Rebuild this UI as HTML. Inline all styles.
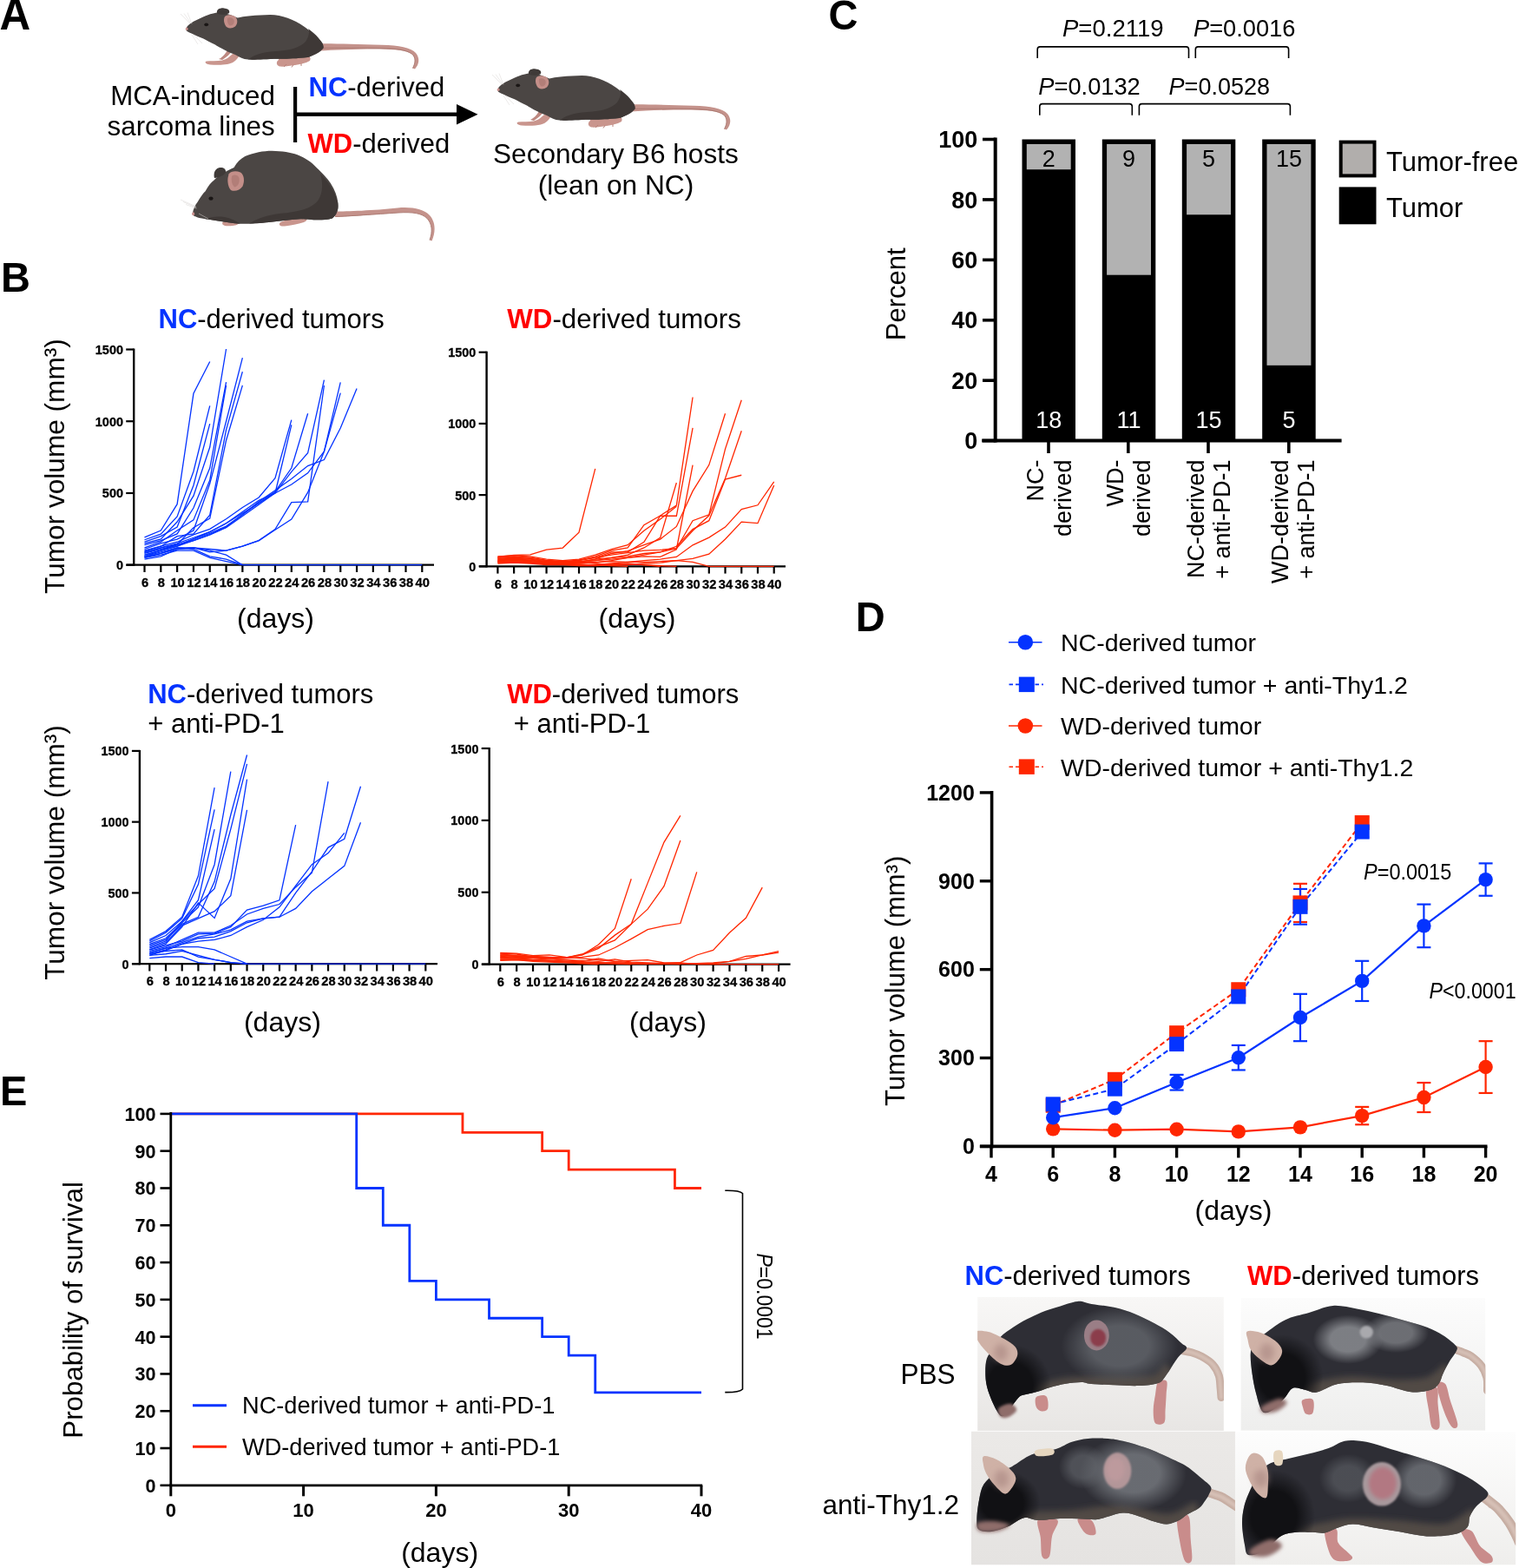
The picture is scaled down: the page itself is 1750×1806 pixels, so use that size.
<!DOCTYPE html>
<html><head><meta charset="utf-8"><title>Figure</title>
<style>html,body{margin:0;padding:0;background:#fff;overflow:hidden;}svg{display:block;}text{font-family:"Liberation Sans", Arial, Helvetica, sans-serif;}</style>
</head><body>
<svg width="1750" height="1806" viewBox="0 0 1750 1806">
<rect width="1750" height="1806" fill="#fff"/>
<text transform="translate(-0.5,34) scale(1.05,1.09)" font-size="47" font-weight="bold">A</text>
<g transform="translate(0,0) scale(1)">
<path d="M368,50.3 C385,50 410,51 440,51.8 C460,52.3 473,55 479,61 C484,67 483,74 478,79.5 L475.3,78.6 C479,72 479,66 474.5,62.3 C468,57.8 455,56.8 438,56.5 C410,56.3 385,57.5 368,58.5 Z" fill="#c4928b"/>
<path d="M368,55.5 C390,55 420,55 440,55.6 C456,56 468,57.5 474.5,62 C479,66 479,72 475.5,78.5" fill="none" stroke="#a9776f" stroke-width="0.9"/>
<path d="M321,67 C330,66 342,63 350,63 C356,63 359,66 357,70 C352,73 345,74 340,75 C334,76 327,77 322,76.5 C318,75 318,71 321,69 Z" fill="#c9958d"/>
<path d="M330,74 l-3,3 M338,74.5 l-2,3 M347,73 l0,3" stroke="#b78179" stroke-width="1"/>
<path d="M270,60 C266,64 262,68 256,69.5 C250,70.5 243,70 238,70.5 C235,71.5 237,74 242,74.5 C250,75 258,75 264,73.5 C270,72 274,68 276,63 Z" fill="#c9958d"/>
<path d="M262,58 C259,63 256,66 252,68 L256,69 C261,66 265,62 268,58 Z" fill="#bd8880"/>
<path d="M214.6,32.6 C216,28 222,25 234,19.5 C242,16 248,14.8 252,14.6 C258,14 266,17 273.7,20.6 C280,19 295,17.5 311.4,17.1 C325,17.5 338,22 350.9,30.9 C358,36 366,43 371.4,49.7 C373,53 373,56 371.4,56.6 C369,59.5 366,61 364.6,61.7 C360,64 357,65.5 354.3,66 C340,67.5 330,67.8 320,67.7 C305,68 295,69 285.7,68.6 C280,68 276,66 272,63.4 C266,61 263,60 260,58.3 C254,55 250,53 248,51.4 C242,49 238,46.5 234.3,44.6 C228,42 224,40.5 220.6,38.6 C217,37 215,36 214.6,35 Z" fill="#4b4644"/>
<path d="M371.4,49.7 C373,53 373,56 371.4,56.6 C369,59.5 366,61 364.6,61.7 C360,64 357,65.5 354.3,66 C340,67.5 330,67.8 320,67.7 C305,68 295,69 285.7,68.6 C292,64 300,60 318,59 C335,58 345,55 352,48 C356,42 357,36 355,33 C362,38 368,44 371.4,49.7 Z" fill="#3e3836"/>
<path d="M250,15.5 C249,11 253,9 258,9.4 C263,9.8 265,12 264,15 C261,17 255,17.5 250,15.5 Z" fill="#3f3a38"/>
<path d="M258.5,20 C260,16.5 265,16.5 270,18.5 C274,21 274.5,27 271,30.5 C267,33.5 261,33 259.5,29 C258,26 257.5,23 258.5,20 Z" fill="#c48f89"/>
<path d="M262,21 C264,19.5 268,20 269.5,23 C270.5,26 268.5,29.5 265,29.5 C262.5,28.5 261.5,24.5 262,21 Z" fill="#b27e78"/>
<ellipse cx="237.7" cy="28.3" rx="2.4" ry="1.9" fill="#1a1615"/>
<ellipse cx="215.2" cy="33.2" rx="1.4" ry="1.7" fill="#c98f8c"/>
<path d="M219,27 L208,16 M220,27 L212,15.5 M221,27.5 L216,14.5 M223,40 L233,50 M221,40 L228,51" stroke="#d8d4d2" stroke-width="0.5" fill="none"/>
</g>
<g transform="translate(359,70) scale(1)">
<path d="M368,50.3 C385,50 410,51 440,51.8 C460,52.3 473,55 479,61 C484,67 483,74 478,79.5 L475.3,78.6 C479,72 479,66 474.5,62.3 C468,57.8 455,56.8 438,56.5 C410,56.3 385,57.5 368,58.5 Z" fill="#c4928b"/>
<path d="M368,55.5 C390,55 420,55 440,55.6 C456,56 468,57.5 474.5,62 C479,66 479,72 475.5,78.5" fill="none" stroke="#a9776f" stroke-width="0.9"/>
<path d="M321,67 C330,66 342,63 350,63 C356,63 359,66 357,70 C352,73 345,74 340,75 C334,76 327,77 322,76.5 C318,75 318,71 321,69 Z" fill="#c9958d"/>
<path d="M330,74 l-3,3 M338,74.5 l-2,3 M347,73 l0,3" stroke="#b78179" stroke-width="1"/>
<path d="M270,60 C266,64 262,68 256,69.5 C250,70.5 243,70 238,70.5 C235,71.5 237,74 242,74.5 C250,75 258,75 264,73.5 C270,72 274,68 276,63 Z" fill="#c9958d"/>
<path d="M262,58 C259,63 256,66 252,68 L256,69 C261,66 265,62 268,58 Z" fill="#bd8880"/>
<path d="M214.6,32.6 C216,28 222,25 234,19.5 C242,16 248,14.8 252,14.6 C258,14 266,17 273.7,20.6 C280,19 295,17.5 311.4,17.1 C325,17.5 338,22 350.9,30.9 C358,36 366,43 371.4,49.7 C373,53 373,56 371.4,56.6 C369,59.5 366,61 364.6,61.7 C360,64 357,65.5 354.3,66 C340,67.5 330,67.8 320,67.7 C305,68 295,69 285.7,68.6 C280,68 276,66 272,63.4 C266,61 263,60 260,58.3 C254,55 250,53 248,51.4 C242,49 238,46.5 234.3,44.6 C228,42 224,40.5 220.6,38.6 C217,37 215,36 214.6,35 Z" fill="#4b4644"/>
<path d="M371.4,49.7 C373,53 373,56 371.4,56.6 C369,59.5 366,61 364.6,61.7 C360,64 357,65.5 354.3,66 C340,67.5 330,67.8 320,67.7 C305,68 295,69 285.7,68.6 C292,64 300,60 318,59 C335,58 345,55 352,48 C356,42 357,36 355,33 C362,38 368,44 371.4,49.7 Z" fill="#3e3836"/>
<path d="M250,15.5 C249,11 253,9 258,9.4 C263,9.8 265,12 264,15 C261,17 255,17.5 250,15.5 Z" fill="#3f3a38"/>
<path d="M258.5,20 C260,16.5 265,16.5 270,18.5 C274,21 274.5,27 271,30.5 C267,33.5 261,33 259.5,29 C258,26 257.5,23 258.5,20 Z" fill="#c48f89"/>
<path d="M262,21 C264,19.5 268,20 269.5,23 C270.5,26 268.5,29.5 265,29.5 C262.5,28.5 261.5,24.5 262,21 Z" fill="#b27e78"/>
<ellipse cx="237.7" cy="28.3" rx="2.4" ry="1.9" fill="#1a1615"/>
<ellipse cx="215.2" cy="33.2" rx="1.4" ry="1.7" fill="#c98f8c"/>
<path d="M219,27 L208,16 M220,27 L212,15.5 M221,27.5 L216,14.5 M223,40 L233,50 M221,40 L228,51" stroke="#d8d4d2" stroke-width="0.5" fill="none"/>
</g>
<path d="M386,243.5 C400,243.5 430,242.5 458,239.5 C475,238 488,241 495,248 C502,256 502,267 497.5,277.5 L495,276.5 C498.5,267 498,258 492,251.5 C486,245.5 475,244 459,245 C432,247 402,249.5 386,250 Z" fill="#c4928b"/>
<path d="M386,249.5 C402,249 432,246.8 459,245 C475,244 486,245.5 492,251.5 C498,258 498.5,267 495,276.5" fill="none" stroke="#a9776f" stroke-width="0.9"/>
<path d="M323,256 C332,252 342,249 350,249.5 C355,250 355,254 350,256 C343,258.5 335,259.5 328,260.5 C323,261 320,259 323,256 Z" fill="#c9958d"/>
<path d="M258,255 C263,253 270,253 274,254.5 C277,257 274,259.5 268,260 C263,260.5 258,260.5 256.5,258.5 C255.5,257 256.5,255.5 258,255 Z" fill="#c9958d"/>
<path d="M221.9,245.9 C222.5,241 225,236 227.4,233.1 C231,227 234,222.5 236.6,220.3 C240,214 243,210 246.6,207.5 C252,202 262,196 269.5,192.9 C273,187 277,183 282.3,180.1 C293,175.5 303,173.8 313.4,173.7 C325,174 335,175.5 342.6,178.3 C352,182 359,187 364.6,192.9 C372,200 377,205 381,211.2 C386,219 388.5,226 389.2,233.1 C389.8,238 389.5,241 388.3,244.1 C387,248 385,250 382.8,251.4 C377,253 370,253.5 364.6,253.3 C356,253 351,252.5 346.3,252.3 C333,253 321,255 309.7,256 C297,257 287,258 276.8,257.8 C268,257.5 261,256 254.9,255.1 C248,254 242,253 236.6,252.3 C231,251.5 227,250.5 225.6,249.6 C223,248.5 222,247.5 221.9,245.9 Z" fill="#4b4644"/>
<path d="M389.2,233.1 C389.8,238 389.5,241 388.3,244.1 C387,248 385,250 382.8,251.4 C377,253 370,253.5 364.6,253.3 C356,253 351,252.5 346.3,252.3 C333,253 321,255 309.7,256 C300,257 292,257.5 287,257.6 C296,252 306,248 322,246 C345,244 362,240 368,228 C372,220 372,210 369,200 C377,208 385,218 389.2,233.1 Z" fill="#3e3836"/>
<path d="M236.6,252.3 C242,253 248,254 254.9,255.1 C261,256 268,257.5 276.8,257.8 C270,253 262,250 255,249.5 C248,249 241,250.5 236.6,252.3 Z" fill="#3e3836"/>
<path d="M247,205 C245.5,199 248,194 253,193 C258,192.5 260.5,195 260,198.5 C258,202 252,205 247,205 Z" fill="#3f3a38"/>
<path d="M263.5,200.5 C266,197 272,196.5 277,198.5 C281.5,201.5 282,209 279.5,214.5 C276.5,219.5 270,221 266,219 C263,216 262,210 262.5,205 Z" fill="#c48f89"/>
<path d="M267,203 C269.5,200.5 274,201 275.5,205 C276.5,209.5 274.5,214.5 270.5,215.5 C267.5,214 266,208 267,203 Z" fill="#b27e78"/>
<ellipse cx="243" cy="228.6" rx="2.6" ry="2.2" fill="#1a1615"/>
<ellipse cx="222.6" cy="246.2" rx="1.5" ry="2" fill="#c98f8c"/>
<path d="M226,238 L208,230 M226,239 L211,232.5 M226.5,240 L214,235.5 M229,246 L240,252" stroke="#d8d4d2" stroke-width="0.5" fill="none"/>
<text x="316.8" y="121" font-size="31.3" text-anchor="end">MCA-induced</text>
<text x="316.7" y="156.2" font-size="31.3" text-anchor="end">sarcoma lines</text>
<rect x="338" y="100" width="4.2" height="64" fill="#000"/>
<rect x="340" y="129.5" width="187" height="4.4" fill="#000"/>
<path d="M526,120 L550.5,131.7 L526,143.4 Z" fill="#000"/>
<text x="355.5" y="110.8" font-size="31"><tspan font-weight="bold" fill="#0433ff">NC</tspan>-derived</text>
<text x="354.5" y="176" font-size="31"><tspan font-weight="bold" fill="#ff0000">WD</tspan>-derived</text>
<text x="709.4" y="188.4" font-size="31.6" text-anchor="middle">Secondary B6 hosts</text>
<text x="709.5" y="223.5" font-size="31.7" text-anchor="middle">(lean on NC)</text>
<text transform="translate(1,336) scale(1,1.04)" font-size="47" font-weight="bold">B</text>
<line x1="154.2" y1="401.5" x2="154.2" y2="651.8" stroke="#000" stroke-width="2.4"/>
<line x1="145.6" y1="650.7" x2="500" y2="650.7" stroke="#000" stroke-width="2.3"/>
<line x1="145.2" y1="650.7" x2="154.2" y2="650.7" stroke="#000" stroke-width="2.2"/>
<text transform="translate(141.9,656.2) scale(0.93,1)" font-size="15.5" font-weight="bold" text-anchor="end" stroke="#000" stroke-width="0.3">0</text>
<line x1="145.2" y1="567.97" x2="154.2" y2="567.97" stroke="#000" stroke-width="2.2"/>
<text transform="translate(141.9,573.47) scale(0.93,1)" font-size="15.5" font-weight="bold" text-anchor="end" stroke="#000" stroke-width="0.3">500</text>
<line x1="145.2" y1="485.23" x2="154.2" y2="485.23" stroke="#000" stroke-width="2.2"/>
<text transform="translate(141.9,490.73) scale(0.93,1)" font-size="15.5" font-weight="bold" text-anchor="end" stroke="#000" stroke-width="0.3">1000</text>
<line x1="145.2" y1="402.5" x2="154.2" y2="402.5" stroke="#000" stroke-width="2.2"/>
<text transform="translate(141.9,408) scale(0.93,1)" font-size="15.5" font-weight="bold" text-anchor="end" stroke="#000" stroke-width="0.3">1500</text>
<line x1="166.5" y1="650.7" x2="166.5" y2="659" stroke="#000" stroke-width="2.2"/>
<text transform="translate(167,675.9) scale(0.95,1)" font-size="15.5" font-weight="bold" text-anchor="middle" stroke="#000" stroke-width="0.3">6</text>
<line x1="185.31" y1="650.7" x2="185.31" y2="659" stroke="#000" stroke-width="2.2"/>
<text transform="translate(185.81,675.9) scale(0.95,1)" font-size="15.5" font-weight="bold" text-anchor="middle" stroke="#000" stroke-width="0.3">8</text>
<line x1="204.12" y1="650.7" x2="204.12" y2="659" stroke="#000" stroke-width="2.2"/>
<text transform="translate(204.62,675.9) scale(0.95,1)" font-size="15.5" font-weight="bold" text-anchor="middle" stroke="#000" stroke-width="0.3">10</text>
<line x1="222.94" y1="650.7" x2="222.94" y2="659" stroke="#000" stroke-width="2.2"/>
<text transform="translate(223.44,675.9) scale(0.95,1)" font-size="15.5" font-weight="bold" text-anchor="middle" stroke="#000" stroke-width="0.3">12</text>
<line x1="241.75" y1="650.7" x2="241.75" y2="659" stroke="#000" stroke-width="2.2"/>
<text transform="translate(242.25,675.9) scale(0.95,1)" font-size="15.5" font-weight="bold" text-anchor="middle" stroke="#000" stroke-width="0.3">14</text>
<line x1="260.56" y1="650.7" x2="260.56" y2="659" stroke="#000" stroke-width="2.2"/>
<text transform="translate(261.06,675.9) scale(0.95,1)" font-size="15.5" font-weight="bold" text-anchor="middle" stroke="#000" stroke-width="0.3">16</text>
<line x1="279.37" y1="650.7" x2="279.37" y2="659" stroke="#000" stroke-width="2.2"/>
<text transform="translate(279.87,675.9) scale(0.95,1)" font-size="15.5" font-weight="bold" text-anchor="middle" stroke="#000" stroke-width="0.3">18</text>
<line x1="298.18" y1="650.7" x2="298.18" y2="659" stroke="#000" stroke-width="2.2"/>
<text transform="translate(298.68,675.9) scale(0.95,1)" font-size="15.5" font-weight="bold" text-anchor="middle" stroke="#000" stroke-width="0.3">20</text>
<line x1="316.99" y1="650.7" x2="316.99" y2="659" stroke="#000" stroke-width="2.2"/>
<text transform="translate(317.49,675.9) scale(0.95,1)" font-size="15.5" font-weight="bold" text-anchor="middle" stroke="#000" stroke-width="0.3">22</text>
<line x1="335.81" y1="650.7" x2="335.81" y2="659" stroke="#000" stroke-width="2.2"/>
<text transform="translate(336.31,675.9) scale(0.95,1)" font-size="15.5" font-weight="bold" text-anchor="middle" stroke="#000" stroke-width="0.3">24</text>
<line x1="354.62" y1="650.7" x2="354.62" y2="659" stroke="#000" stroke-width="2.2"/>
<text transform="translate(355.12,675.9) scale(0.95,1)" font-size="15.5" font-weight="bold" text-anchor="middle" stroke="#000" stroke-width="0.3">26</text>
<line x1="373.43" y1="650.7" x2="373.43" y2="659" stroke="#000" stroke-width="2.2"/>
<text transform="translate(373.93,675.9) scale(0.95,1)" font-size="15.5" font-weight="bold" text-anchor="middle" stroke="#000" stroke-width="0.3">28</text>
<line x1="392.24" y1="650.7" x2="392.24" y2="659" stroke="#000" stroke-width="2.2"/>
<text transform="translate(392.74,675.9) scale(0.95,1)" font-size="15.5" font-weight="bold" text-anchor="middle" stroke="#000" stroke-width="0.3">30</text>
<line x1="411.05" y1="650.7" x2="411.05" y2="659" stroke="#000" stroke-width="2.2"/>
<text transform="translate(411.55,675.9) scale(0.95,1)" font-size="15.5" font-weight="bold" text-anchor="middle" stroke="#000" stroke-width="0.3">32</text>
<line x1="429.86" y1="650.7" x2="429.86" y2="659" stroke="#000" stroke-width="2.2"/>
<text transform="translate(430.36,675.9) scale(0.95,1)" font-size="15.5" font-weight="bold" text-anchor="middle" stroke="#000" stroke-width="0.3">34</text>
<line x1="448.68" y1="650.7" x2="448.68" y2="659" stroke="#000" stroke-width="2.2"/>
<text transform="translate(449.18,675.9) scale(0.95,1)" font-size="15.5" font-weight="bold" text-anchor="middle" stroke="#000" stroke-width="0.3">36</text>
<line x1="467.49" y1="650.7" x2="467.49" y2="659" stroke="#000" stroke-width="2.2"/>
<text transform="translate(467.99,675.9) scale(0.95,1)" font-size="15.5" font-weight="bold" text-anchor="middle" stroke="#000" stroke-width="0.3">38</text>
<line x1="486.3" y1="650.7" x2="486.3" y2="659" stroke="#000" stroke-width="2.2"/>
<text transform="translate(486.8,675.9) scale(0.95,1)" font-size="15.5" font-weight="bold" text-anchor="middle" stroke="#000" stroke-width="0.3">40</text>
<polyline points="166.5,618.93 185.31,610.99 204.12,580.71 222.94,453.3 241.75,416.56" fill="none" stroke="#0433ff" stroke-width="1.3" stroke-linejoin="miter"/>
<polyline points="166.5,621.74 185.31,615.12 204.12,594.94 222.94,542.98 241.75,467.36" fill="none" stroke="#0433ff" stroke-width="1.3" stroke-linejoin="miter"/>
<polyline points="166.5,624.23 185.31,617.61 204.12,607.02 222.94,559.03 241.75,488.05" fill="none" stroke="#0433ff" stroke-width="1.3" stroke-linejoin="miter"/>
<polyline points="166.5,625.88 185.31,620.92 204.12,601.06 222.94,571.11 241.75,515.02 260.56,402" fill="none" stroke="#0433ff" stroke-width="1.3" stroke-linejoin="miter"/>
<polyline points="166.5,627.53 185.31,622.57 204.12,614.96 222.94,585.01 241.75,539.01 260.56,440.06" fill="none" stroke="#0433ff" stroke-width="1.3" stroke-linejoin="miter"/>
<polyline points="166.5,630.84 185.31,624.23 204.12,610.99 222.94,598.91 241.75,553.07 260.56,443.87" fill="none" stroke="#0433ff" stroke-width="1.3" stroke-linejoin="miter"/>
<polyline points="166.5,632.5 185.31,625.88 204.12,621.08 222.94,610.99 241.75,557.05 260.56,485.23 279.37,412.1" fill="none" stroke="#0433ff" stroke-width="1.3" stroke-linejoin="miter"/>
<polyline points="166.5,634.98 185.31,629.19 204.12,617.61 222.94,614.96 241.75,593.12 260.56,495.16 279.37,428.15" fill="none" stroke="#0433ff" stroke-width="1.3" stroke-linejoin="miter"/>
<polyline points="166.5,636.64 185.31,630.84 204.12,627.04 222.94,607.68 241.75,597.09 260.56,507.24 279.37,443.87" fill="none" stroke="#0433ff" stroke-width="1.3" stroke-linejoin="miter"/>
<polyline points="166.5,634.15 185.31,629.19 204.12,624.23 222.94,615.95 241.75,609.33 260.56,597.75 279.37,584.51 298.18,572.93 316.99,550.59 335.81,483.58" fill="none" stroke="#0433ff" stroke-width="1.3" stroke-linejoin="miter"/>
<polyline points="166.5,635.81 185.31,630.84 204.12,625.88 222.94,619.26 241.75,612.64 260.56,602.71 279.37,589.48 298.18,576.24 316.99,567.97 335.81,489.37" fill="none" stroke="#0433ff" stroke-width="1.3" stroke-linejoin="miter"/>
<polyline points="166.5,637.46 185.31,632.5 204.12,627.53 222.94,620.92 241.75,614.3 260.56,606.02 279.37,592.79 298.18,579.55 316.99,566.31 335.81,539.01 354.62,476.3" fill="none" stroke="#0433ff" stroke-width="1.3" stroke-linejoin="miter"/>
<polyline points="166.5,639.12 185.31,634.15 204.12,627.53 222.94,622.57 241.75,615.95 260.56,607.68 279.37,594.44 298.18,581.2 316.99,567.8 335.81,543.31 354.62,521.8 373.43,437.58" fill="none" stroke="#0433ff" stroke-width="1.3" stroke-linejoin="miter"/>
<polyline points="166.5,640.77 185.31,634.15 204.12,629.19 222.94,622.57 241.75,615.95 260.56,606.85 279.37,592.79 298.18,577.89 316.99,564.66 335.81,551.42 354.62,536.53 373.43,529.58 392.24,493.01 411.05,447.51" fill="none" stroke="#0433ff" stroke-width="1.3" stroke-linejoin="miter"/>
<polyline points="166.5,642.43 185.31,637.46 204.12,632.5 222.94,630.84 241.75,632.5 260.56,634.15 279.37,629.19 298.18,622.57 316.99,609.5 335.81,578.56 354.62,577.89 373.43,444.03" fill="none" stroke="#0433ff" stroke-width="1.3" stroke-linejoin="miter"/>
<polyline points="166.5,640.77 185.31,635.81 204.12,630.84 222.94,630.84 241.75,635.81 260.56,634.15 279.37,629.19 298.18,622.57 316.99,610.33 335.81,598.08 354.62,567.14 373.43,519.98 392.24,440.39" fill="none" stroke="#0433ff" stroke-width="1.3" stroke-linejoin="miter"/>
<polyline points="166.5,639.12 185.31,634.15 204.12,629.19 222.94,620.92 241.75,612.64 260.56,602.71 279.37,591.13 298.18,579.55 316.99,567.97 335.81,558.04 354.62,544.8 373.43,519.98 392.24,452.64" fill="none" stroke="#0433ff" stroke-width="1.3" stroke-linejoin="miter"/>
<polyline points="166.5,640.77 185.31,637.46 204.12,630.84 222.94,632.5 241.75,640.77 260.56,644.08 279.37,650.7 486.3,650.7" fill="none" stroke="#0433ff" stroke-width="1.3" stroke-linejoin="miter"/>
<polyline points="166.5,642.43 185.31,639.12 204.12,634.15 222.94,634.15 241.75,642.43 260.56,646.56 279.37,650.7" fill="none" stroke="#0433ff" stroke-width="1.3" stroke-linejoin="miter"/>
<polyline points="166.5,644.08 185.31,640.77 204.12,632.5 222.94,630.84 241.75,634.15 260.56,639.12 279.37,650.7" fill="none" stroke="#0433ff" stroke-width="1.3" stroke-linejoin="miter"/>
<line x1="560.6" y1="404.7" x2="560.6" y2="653.4" stroke="#000" stroke-width="2.4"/>
<line x1="552" y1="652.3" x2="905" y2="652.3" stroke="#000" stroke-width="2.3"/>
<line x1="551.6" y1="652.3" x2="560.6" y2="652.3" stroke="#000" stroke-width="2.2"/>
<text transform="translate(548.3,657.8) scale(0.93,1)" font-size="15.5" font-weight="bold" text-anchor="end" stroke="#000" stroke-width="0.3">0</text>
<line x1="551.6" y1="570.1" x2="560.6" y2="570.1" stroke="#000" stroke-width="2.2"/>
<text transform="translate(548.3,575.6) scale(0.93,1)" font-size="15.5" font-weight="bold" text-anchor="end" stroke="#000" stroke-width="0.3">500</text>
<line x1="551.6" y1="487.9" x2="560.6" y2="487.9" stroke="#000" stroke-width="2.2"/>
<text transform="translate(548.3,493.4) scale(0.93,1)" font-size="15.5" font-weight="bold" text-anchor="end" stroke="#000" stroke-width="0.3">1000</text>
<line x1="551.6" y1="405.7" x2="560.6" y2="405.7" stroke="#000" stroke-width="2.2"/>
<text transform="translate(548.3,411.2) scale(0.93,1)" font-size="15.5" font-weight="bold" text-anchor="end" stroke="#000" stroke-width="0.3">1500</text>
<line x1="573.4" y1="652.3" x2="573.4" y2="660.6" stroke="#000" stroke-width="2.2"/>
<text transform="translate(573.9,677.5) scale(0.95,1)" font-size="15.5" font-weight="bold" text-anchor="middle" stroke="#000" stroke-width="0.3">6</text>
<line x1="592.12" y1="652.3" x2="592.12" y2="660.6" stroke="#000" stroke-width="2.2"/>
<text transform="translate(592.62,677.5) scale(0.95,1)" font-size="15.5" font-weight="bold" text-anchor="middle" stroke="#000" stroke-width="0.3">8</text>
<line x1="610.85" y1="652.3" x2="610.85" y2="660.6" stroke="#000" stroke-width="2.2"/>
<text transform="translate(611.35,677.5) scale(0.95,1)" font-size="15.5" font-weight="bold" text-anchor="middle" stroke="#000" stroke-width="0.3">10</text>
<line x1="629.57" y1="652.3" x2="629.57" y2="660.6" stroke="#000" stroke-width="2.2"/>
<text transform="translate(630.07,677.5) scale(0.95,1)" font-size="15.5" font-weight="bold" text-anchor="middle" stroke="#000" stroke-width="0.3">12</text>
<line x1="648.29" y1="652.3" x2="648.29" y2="660.6" stroke="#000" stroke-width="2.2"/>
<text transform="translate(648.79,677.5) scale(0.95,1)" font-size="15.5" font-weight="bold" text-anchor="middle" stroke="#000" stroke-width="0.3">14</text>
<line x1="667.02" y1="652.3" x2="667.02" y2="660.6" stroke="#000" stroke-width="2.2"/>
<text transform="translate(667.52,677.5) scale(0.95,1)" font-size="15.5" font-weight="bold" text-anchor="middle" stroke="#000" stroke-width="0.3">16</text>
<line x1="685.74" y1="652.3" x2="685.74" y2="660.6" stroke="#000" stroke-width="2.2"/>
<text transform="translate(686.24,677.5) scale(0.95,1)" font-size="15.5" font-weight="bold" text-anchor="middle" stroke="#000" stroke-width="0.3">18</text>
<line x1="704.46" y1="652.3" x2="704.46" y2="660.6" stroke="#000" stroke-width="2.2"/>
<text transform="translate(704.96,677.5) scale(0.95,1)" font-size="15.5" font-weight="bold" text-anchor="middle" stroke="#000" stroke-width="0.3">20</text>
<line x1="723.19" y1="652.3" x2="723.19" y2="660.6" stroke="#000" stroke-width="2.2"/>
<text transform="translate(723.69,677.5) scale(0.95,1)" font-size="15.5" font-weight="bold" text-anchor="middle" stroke="#000" stroke-width="0.3">22</text>
<line x1="741.91" y1="652.3" x2="741.91" y2="660.6" stroke="#000" stroke-width="2.2"/>
<text transform="translate(742.41,677.5) scale(0.95,1)" font-size="15.5" font-weight="bold" text-anchor="middle" stroke="#000" stroke-width="0.3">24</text>
<line x1="760.64" y1="652.3" x2="760.64" y2="660.6" stroke="#000" stroke-width="2.2"/>
<text transform="translate(761.14,677.5) scale(0.95,1)" font-size="15.5" font-weight="bold" text-anchor="middle" stroke="#000" stroke-width="0.3">26</text>
<line x1="779.36" y1="652.3" x2="779.36" y2="660.6" stroke="#000" stroke-width="2.2"/>
<text transform="translate(779.86,677.5) scale(0.95,1)" font-size="15.5" font-weight="bold" text-anchor="middle" stroke="#000" stroke-width="0.3">28</text>
<line x1="798.08" y1="652.3" x2="798.08" y2="660.6" stroke="#000" stroke-width="2.2"/>
<text transform="translate(798.58,677.5) scale(0.95,1)" font-size="15.5" font-weight="bold" text-anchor="middle" stroke="#000" stroke-width="0.3">30</text>
<line x1="816.81" y1="652.3" x2="816.81" y2="660.6" stroke="#000" stroke-width="2.2"/>
<text transform="translate(817.31,677.5) scale(0.95,1)" font-size="15.5" font-weight="bold" text-anchor="middle" stroke="#000" stroke-width="0.3">32</text>
<line x1="835.53" y1="652.3" x2="835.53" y2="660.6" stroke="#000" stroke-width="2.2"/>
<text transform="translate(836.03,677.5) scale(0.95,1)" font-size="15.5" font-weight="bold" text-anchor="middle" stroke="#000" stroke-width="0.3">34</text>
<line x1="854.25" y1="652.3" x2="854.25" y2="660.6" stroke="#000" stroke-width="2.2"/>
<text transform="translate(854.75,677.5) scale(0.95,1)" font-size="15.5" font-weight="bold" text-anchor="middle" stroke="#000" stroke-width="0.3">36</text>
<line x1="872.98" y1="652.3" x2="872.98" y2="660.6" stroke="#000" stroke-width="2.2"/>
<text transform="translate(873.48,677.5) scale(0.95,1)" font-size="15.5" font-weight="bold" text-anchor="middle" stroke="#000" stroke-width="0.3">38</text>
<line x1="891.7" y1="652.3" x2="891.7" y2="660.6" stroke="#000" stroke-width="2.2"/>
<text transform="translate(892.2,677.5) scale(0.95,1)" font-size="15.5" font-weight="bold" text-anchor="middle" stroke="#000" stroke-width="0.3">40</text>
<polyline points="573.4,641.45 592.12,639.48 610.85,638.82 629.57,633.07 648.29,631.09 667.02,613.17 685.74,539.85" fill="none" stroke="#ff2600" stroke-width="1.3" stroke-linejoin="miter"/>
<polyline points="573.4,642.44 592.12,641.61 610.85,642.44 629.57,645.72 648.29,646.55 667.02,645.72 685.74,640.79 704.46,634.22 723.19,630.93 741.91,604.62 760.64,593.94 779.36,582.1 798.08,457.49" fill="none" stroke="#ff2600" stroke-width="1.3" stroke-linejoin="miter"/>
<polyline points="573.4,643.26 592.12,642.44 610.85,643.26 629.57,645.72 648.29,647.37 667.02,644.9 685.74,642.44 704.46,635.86 723.19,635.86 741.91,624.35 760.64,594.27 779.36,594.27 798.08,492.83" fill="none" stroke="#ff2600" stroke-width="1.3" stroke-linejoin="miter"/>
<polyline points="573.4,644.08 592.12,643.26 610.85,644.08 629.57,646.55 648.29,645.72 667.02,647.37 685.74,644.08 704.46,642.44 723.19,639.15 741.91,630.93 760.64,619.42 779.36,555.96" fill="none" stroke="#ff2600" stroke-width="1.3" stroke-linejoin="miter"/>
<polyline points="573.4,644.9 592.12,644.08 610.85,644.9 629.57,647.37 648.29,647.37 667.02,646.55 685.74,645.72 704.46,644.08 723.19,642.44 741.91,640.79 760.64,641.45 779.36,632.74 798.08,535.58" fill="none" stroke="#ff2600" stroke-width="1.3" stroke-linejoin="miter"/>
<polyline points="573.4,645.72 592.12,644.9 610.85,645.72 629.57,647.37 648.29,648.19 667.02,647.37 685.74,644.08 704.46,637.5 723.19,634.71 741.91,627.64 760.64,621.06 779.36,606.43 798.08,565.66 816.81,535.58 835.53,476.23" fill="none" stroke="#ff2600" stroke-width="1.3" stroke-linejoin="miter"/>
<polyline points="573.4,646.55 592.12,645.72 610.85,646.55 629.57,648.19 648.29,649.01 667.02,645.72 685.74,642.44 704.46,639.15 723.19,636.68 741.91,634.22 760.64,633.39 779.36,631.75 798.08,599.69 816.81,592.79 835.53,517.16 854.25,460.77" fill="none" stroke="#ff2600" stroke-width="1.3" stroke-linejoin="miter"/>
<polyline points="573.4,647.37 592.12,645.72 610.85,647.37 629.57,649.01 648.29,649.01 667.02,648.19 685.74,645.72 704.46,642.44 723.19,640.79 741.91,637.5 760.64,635.86 779.36,631.75 798.08,611.2 816.81,593.77 835.53,551.03 854.25,496.28" fill="none" stroke="#ff2600" stroke-width="1.3" stroke-linejoin="miter"/>
<polyline points="573.4,642.44 592.12,640.79 610.85,642.44 629.57,645.72 648.29,647.37 667.02,649.01 685.74,648.19 704.46,645.72 723.19,642.44 741.91,639.15 760.64,635.86 779.36,629.28 798.08,609.56 816.81,599.69 835.53,552.02 854.25,547.25" fill="none" stroke="#ff2600" stroke-width="1.3" stroke-linejoin="miter"/>
<polyline points="573.4,648.19 592.12,647.37 610.85,648.19 629.57,649.83 648.29,649.83 667.02,650.66 685.74,650.66 704.46,649.01 723.19,647.37 741.91,645.72 760.64,644.08 779.36,641.45 798.08,627.8 816.81,619.09 835.53,607.09 854.25,586.54 872.98,581.77 891.7,554.98" fill="none" stroke="#ff2600" stroke-width="1.3" stroke-linejoin="miter"/>
<polyline points="573.4,649.01 592.12,648.19 610.85,649.01 629.57,650.66 648.29,650.66 667.02,651.48 685.74,651.48 704.46,650.66 723.19,650.66 741.91,649.01 760.64,648.19 779.36,645.72 798.08,643.42 816.81,638.16 835.53,621.06 854.25,601.17 872.98,602.65 891.7,558.92" fill="none" stroke="#ff2600" stroke-width="1.3" stroke-linejoin="miter"/>
<polyline points="573.4,640.79 592.12,639.97 610.85,640.79 629.57,644.08 648.29,645.72 667.02,644.08 685.74,639.15 704.46,632.57 723.19,627.64 741.91,611.2 760.64,598.05 779.36,583.25" fill="none" stroke="#ff2600" stroke-width="1.3" stroke-linejoin="miter"/>
<polyline points="573.4,645.72 592.12,646.55 610.85,647.37 629.57,649.01 648.29,649.83 667.02,649.01 685.74,647.37 704.46,646.55 723.19,647.37 741.91,647.37 760.64,646.55 779.36,645.72 798.08,647.37 816.81,652.3 891.7,652.3" fill="none" stroke="#ff2600" stroke-width="1.3" stroke-linejoin="miter"/>
<polyline points="573.4,647.37 592.12,647.37 610.85,648.19 629.57,649.01 648.29,649.83 667.02,650.66 685.74,650.66 704.46,649.83 723.19,649.01 741.91,650.66 760.64,651.48 779.36,652.3" fill="none" stroke="#ff2600" stroke-width="1.3" stroke-linejoin="miter"/>
<polyline points="573.4,646.55 592.12,646.55 610.85,647.37 629.57,649.01 648.29,649.83 667.02,650.33 685.74,650.66 704.46,651.48 723.19,652.3" fill="none" stroke="#ff2600" stroke-width="1.3" stroke-linejoin="miter"/>
<polyline points="573.4,644.08 592.12,644.9 610.85,645.72 629.57,647.37 648.29,649.01 667.02,647.37 685.74,649.01 704.46,650.66 723.19,649.83 741.91,650.66 760.64,652.3" fill="none" stroke="#ff2600" stroke-width="1.3" stroke-linejoin="miter"/>
<line x1="160.9" y1="863.9" x2="160.9" y2="1111.3" stroke="#000" stroke-width="2.4"/>
<line x1="152" y1="1110.2" x2="504" y2="1110.2" stroke="#000" stroke-width="2.3"/>
<line x1="151.9" y1="1110.2" x2="160.9" y2="1110.2" stroke="#000" stroke-width="2.2"/>
<text transform="translate(148.6,1115.7) scale(0.93,1)" font-size="15.5" font-weight="bold" text-anchor="end" stroke="#000" stroke-width="0.3">0</text>
<line x1="151.9" y1="1028.43" x2="160.9" y2="1028.43" stroke="#000" stroke-width="2.2"/>
<text transform="translate(148.6,1033.93) scale(0.93,1)" font-size="15.5" font-weight="bold" text-anchor="end" stroke="#000" stroke-width="0.3">500</text>
<line x1="151.9" y1="946.67" x2="160.9" y2="946.67" stroke="#000" stroke-width="2.2"/>
<text transform="translate(148.6,952.17) scale(0.93,1)" font-size="15.5" font-weight="bold" text-anchor="end" stroke="#000" stroke-width="0.3">1000</text>
<line x1="151.9" y1="864.9" x2="160.9" y2="864.9" stroke="#000" stroke-width="2.2"/>
<text transform="translate(148.6,870.4) scale(0.93,1)" font-size="15.5" font-weight="bold" text-anchor="end" stroke="#000" stroke-width="0.3">1500</text>
<line x1="172.3" y1="1110.2" x2="172.3" y2="1118.5" stroke="#000" stroke-width="2.2"/>
<text transform="translate(172.8,1135.4) scale(0.95,1)" font-size="15.5" font-weight="bold" text-anchor="middle" stroke="#000" stroke-width="0.3">6</text>
<line x1="191.01" y1="1110.2" x2="191.01" y2="1118.5" stroke="#000" stroke-width="2.2"/>
<text transform="translate(191.51,1135.4) scale(0.95,1)" font-size="15.5" font-weight="bold" text-anchor="middle" stroke="#000" stroke-width="0.3">8</text>
<line x1="209.71" y1="1110.2" x2="209.71" y2="1118.5" stroke="#000" stroke-width="2.2"/>
<text transform="translate(210.21,1135.4) scale(0.95,1)" font-size="15.5" font-weight="bold" text-anchor="middle" stroke="#000" stroke-width="0.3">10</text>
<line x1="228.42" y1="1110.2" x2="228.42" y2="1118.5" stroke="#000" stroke-width="2.2"/>
<text transform="translate(228.92,1135.4) scale(0.95,1)" font-size="15.5" font-weight="bold" text-anchor="middle" stroke="#000" stroke-width="0.3">12</text>
<line x1="247.12" y1="1110.2" x2="247.12" y2="1118.5" stroke="#000" stroke-width="2.2"/>
<text transform="translate(247.62,1135.4) scale(0.95,1)" font-size="15.5" font-weight="bold" text-anchor="middle" stroke="#000" stroke-width="0.3">14</text>
<line x1="265.83" y1="1110.2" x2="265.83" y2="1118.5" stroke="#000" stroke-width="2.2"/>
<text transform="translate(266.33,1135.4) scale(0.95,1)" font-size="15.5" font-weight="bold" text-anchor="middle" stroke="#000" stroke-width="0.3">16</text>
<line x1="284.54" y1="1110.2" x2="284.54" y2="1118.5" stroke="#000" stroke-width="2.2"/>
<text transform="translate(285.04,1135.4) scale(0.95,1)" font-size="15.5" font-weight="bold" text-anchor="middle" stroke="#000" stroke-width="0.3">18</text>
<line x1="303.24" y1="1110.2" x2="303.24" y2="1118.5" stroke="#000" stroke-width="2.2"/>
<text transform="translate(303.74,1135.4) scale(0.95,1)" font-size="15.5" font-weight="bold" text-anchor="middle" stroke="#000" stroke-width="0.3">20</text>
<line x1="321.95" y1="1110.2" x2="321.95" y2="1118.5" stroke="#000" stroke-width="2.2"/>
<text transform="translate(322.45,1135.4) scale(0.95,1)" font-size="15.5" font-weight="bold" text-anchor="middle" stroke="#000" stroke-width="0.3">22</text>
<line x1="340.65" y1="1110.2" x2="340.65" y2="1118.5" stroke="#000" stroke-width="2.2"/>
<text transform="translate(341.15,1135.4) scale(0.95,1)" font-size="15.5" font-weight="bold" text-anchor="middle" stroke="#000" stroke-width="0.3">24</text>
<line x1="359.36" y1="1110.2" x2="359.36" y2="1118.5" stroke="#000" stroke-width="2.2"/>
<text transform="translate(359.86,1135.4) scale(0.95,1)" font-size="15.5" font-weight="bold" text-anchor="middle" stroke="#000" stroke-width="0.3">26</text>
<line x1="378.06" y1="1110.2" x2="378.06" y2="1118.5" stroke="#000" stroke-width="2.2"/>
<text transform="translate(378.56,1135.4) scale(0.95,1)" font-size="15.5" font-weight="bold" text-anchor="middle" stroke="#000" stroke-width="0.3">28</text>
<line x1="396.77" y1="1110.2" x2="396.77" y2="1118.5" stroke="#000" stroke-width="2.2"/>
<text transform="translate(397.27,1135.4) scale(0.95,1)" font-size="15.5" font-weight="bold" text-anchor="middle" stroke="#000" stroke-width="0.3">30</text>
<line x1="415.48" y1="1110.2" x2="415.48" y2="1118.5" stroke="#000" stroke-width="2.2"/>
<text transform="translate(415.98,1135.4) scale(0.95,1)" font-size="15.5" font-weight="bold" text-anchor="middle" stroke="#000" stroke-width="0.3">32</text>
<line x1="434.18" y1="1110.2" x2="434.18" y2="1118.5" stroke="#000" stroke-width="2.2"/>
<text transform="translate(434.68,1135.4) scale(0.95,1)" font-size="15.5" font-weight="bold" text-anchor="middle" stroke="#000" stroke-width="0.3">34</text>
<line x1="452.89" y1="1110.2" x2="452.89" y2="1118.5" stroke="#000" stroke-width="2.2"/>
<text transform="translate(453.39,1135.4) scale(0.95,1)" font-size="15.5" font-weight="bold" text-anchor="middle" stroke="#000" stroke-width="0.3">36</text>
<line x1="471.59" y1="1110.2" x2="471.59" y2="1118.5" stroke="#000" stroke-width="2.2"/>
<text transform="translate(472.09,1135.4) scale(0.95,1)" font-size="15.5" font-weight="bold" text-anchor="middle" stroke="#000" stroke-width="0.3">38</text>
<line x1="490.3" y1="1110.2" x2="490.3" y2="1118.5" stroke="#000" stroke-width="2.2"/>
<text transform="translate(490.8,1135.4) scale(0.95,1)" font-size="15.5" font-weight="bold" text-anchor="middle" stroke="#000" stroke-width="0.3">40</text>
<polyline points="172.3,1082.4 191.01,1072.59 209.71,1056.23 228.42,1008.81 247.12,907.09" fill="none" stroke="#0433ff" stroke-width="1.3" stroke-linejoin="miter"/>
<polyline points="172.3,1084.03 191.01,1074.22 209.71,1057.87 228.42,1018.62 247.12,932.28" fill="none" stroke="#0433ff" stroke-width="1.3" stroke-linejoin="miter"/>
<polyline points="172.3,1085.67 191.01,1077.49 209.71,1061.14 228.42,1036.61 247.12,955.17" fill="none" stroke="#0433ff" stroke-width="1.3" stroke-linejoin="miter"/>
<polyline points="172.3,1087.31 191.01,1080.76 209.71,1062.78 228.42,1044.79 247.12,995.73 265.83,888.61" fill="none" stroke="#0433ff" stroke-width="1.3" stroke-linejoin="miter"/>
<polyline points="172.3,1088.94 191.01,1082.4 209.71,1064.41 228.42,1056.23 247.12,1015.35 265.83,938.49 284.54,869.48" fill="none" stroke="#0433ff" stroke-width="1.3" stroke-linejoin="miter"/>
<polyline points="172.3,1090.58 191.01,1084.03 209.71,1061.14 228.42,1041.52 247.12,1023.53 265.83,954.84 284.54,879.95" fill="none" stroke="#0433ff" stroke-width="1.3" stroke-linejoin="miter"/>
<polyline points="172.3,1092.21 191.01,1085.67 209.71,1066.05 228.42,1057.87 247.12,1049.69 265.83,1031.7 284.54,932.93" fill="none" stroke="#0433ff" stroke-width="1.3" stroke-linejoin="miter"/>
<polyline points="172.3,1093.85 191.01,1087.31 209.71,1067.68 228.42,1039.88 247.12,1057.38 265.83,1012.08 284.54,897.61" fill="none" stroke="#0433ff" stroke-width="1.3" stroke-linejoin="miter"/>
<polyline points="172.3,1093.85 191.01,1088.94 209.71,1084.03 228.42,1075.86 247.12,1075.04 265.83,1067.68 284.54,1048.06 303.24,1043.15 321.95,1036.77 340.65,950.1" fill="none" stroke="#0433ff" stroke-width="1.3" stroke-linejoin="miter"/>
<polyline points="172.3,1095.48 191.01,1090.58 209.71,1082.4 228.42,1074.22 247.12,1074.22 265.83,1066.05 284.54,1052.96 303.24,1046.42 321.95,1041.52 340.65,1021.89 359.36,1005.21 378.06,900.06" fill="none" stroke="#0433ff" stroke-width="1.3" stroke-linejoin="miter"/>
<polyline points="172.3,1097.12 191.01,1092.21 209.71,1085.67 228.42,1079.13 247.12,1075.86 265.83,1070.95 284.54,1061.14 303.24,1057.87 321.95,1056.23 340.65,1028.43 359.36,1003.9 378.06,976.1 396.77,966.29 415.48,905.78" fill="none" stroke="#0433ff" stroke-width="1.3" stroke-linejoin="miter"/>
<polyline points="172.3,1098.75 191.01,1093.85 209.71,1087.31 228.42,1084.03 247.12,1082.4 265.83,1077.49 284.54,1067.68 303.24,1059.5 321.95,1044.79 340.65,1020.26 359.36,995.73 378.06,982.64 396.77,959.42" fill="none" stroke="#0433ff" stroke-width="1.3" stroke-linejoin="miter"/>
<polyline points="172.3,1100.39 191.01,1094.66 209.71,1087.31 228.42,1080.76 247.12,1079.13 265.83,1072.59 284.54,1062.78 303.24,1057.87 321.95,1056.23 340.65,1046.42 359.36,1026.8 378.06,1012.08 396.77,997.36 415.48,947.16" fill="none" stroke="#0433ff" stroke-width="1.3" stroke-linejoin="miter"/>
<polyline points="172.3,1100.39 191.01,1098.75 209.71,1095.48 228.42,1100.39 247.12,1105.29 265.83,1108.56 284.54,1110.2 490.3,1110.2" fill="none" stroke="#0433ff" stroke-width="1.3" stroke-linejoin="miter"/>
<polyline points="172.3,1103.66 191.01,1102.02 209.71,1102.02 228.42,1108.56 247.12,1110.2" fill="none" stroke="#0433ff" stroke-width="1.3" stroke-linejoin="miter"/>
<polyline points="172.3,1097.12 191.01,1092.21 209.71,1090.58 228.42,1090.58 247.12,1093.85 265.83,1102.02 284.54,1110.2" fill="none" stroke="#0433ff" stroke-width="1.3" stroke-linejoin="miter"/>
<polyline points="172.3,1098.75 191.01,1095.48 209.71,1093.85 228.42,1102.02 247.12,1105.29 265.83,1108.56 284.54,1110.2" fill="none" stroke="#0433ff" stroke-width="1.3" stroke-linejoin="miter"/>
<line x1="563.7" y1="861" x2="563.7" y2="1111.7" stroke="#000" stroke-width="2.4"/>
<line x1="555.2" y1="1110.6" x2="910.6" y2="1110.6" stroke="#000" stroke-width="2.3"/>
<line x1="554.7" y1="1110.6" x2="563.7" y2="1110.6" stroke="#000" stroke-width="2.2"/>
<text transform="translate(551.4,1116.1) scale(0.93,1)" font-size="15.5" font-weight="bold" text-anchor="end" stroke="#000" stroke-width="0.3">0</text>
<line x1="554.7" y1="1027.73" x2="563.7" y2="1027.73" stroke="#000" stroke-width="2.2"/>
<text transform="translate(551.4,1033.23) scale(0.93,1)" font-size="15.5" font-weight="bold" text-anchor="end" stroke="#000" stroke-width="0.3">500</text>
<line x1="554.7" y1="944.87" x2="563.7" y2="944.87" stroke="#000" stroke-width="2.2"/>
<text transform="translate(551.4,950.37) scale(0.93,1)" font-size="15.5" font-weight="bold" text-anchor="end" stroke="#000" stroke-width="0.3">1000</text>
<line x1="554.7" y1="862" x2="563.7" y2="862" stroke="#000" stroke-width="2.2"/>
<text transform="translate(551.4,867.5) scale(0.93,1)" font-size="15.5" font-weight="bold" text-anchor="end" stroke="#000" stroke-width="0.3">1500</text>
<line x1="576.3" y1="1110.6" x2="576.3" y2="1118.9" stroke="#000" stroke-width="2.2"/>
<text transform="translate(576.8,1135.8) scale(0.95,1)" font-size="15.5" font-weight="bold" text-anchor="middle" stroke="#000" stroke-width="0.3">6</text>
<line x1="595.17" y1="1110.6" x2="595.17" y2="1118.9" stroke="#000" stroke-width="2.2"/>
<text transform="translate(595.67,1135.8) scale(0.95,1)" font-size="15.5" font-weight="bold" text-anchor="middle" stroke="#000" stroke-width="0.3">8</text>
<line x1="614.04" y1="1110.6" x2="614.04" y2="1118.9" stroke="#000" stroke-width="2.2"/>
<text transform="translate(614.54,1135.8) scale(0.95,1)" font-size="15.5" font-weight="bold" text-anchor="middle" stroke="#000" stroke-width="0.3">10</text>
<line x1="632.91" y1="1110.6" x2="632.91" y2="1118.9" stroke="#000" stroke-width="2.2"/>
<text transform="translate(633.41,1135.8) scale(0.95,1)" font-size="15.5" font-weight="bold" text-anchor="middle" stroke="#000" stroke-width="0.3">12</text>
<line x1="651.78" y1="1110.6" x2="651.78" y2="1118.9" stroke="#000" stroke-width="2.2"/>
<text transform="translate(652.28,1135.8) scale(0.95,1)" font-size="15.5" font-weight="bold" text-anchor="middle" stroke="#000" stroke-width="0.3">14</text>
<line x1="670.65" y1="1110.6" x2="670.65" y2="1118.9" stroke="#000" stroke-width="2.2"/>
<text transform="translate(671.15,1135.8) scale(0.95,1)" font-size="15.5" font-weight="bold" text-anchor="middle" stroke="#000" stroke-width="0.3">16</text>
<line x1="689.52" y1="1110.6" x2="689.52" y2="1118.9" stroke="#000" stroke-width="2.2"/>
<text transform="translate(690.02,1135.8) scale(0.95,1)" font-size="15.5" font-weight="bold" text-anchor="middle" stroke="#000" stroke-width="0.3">18</text>
<line x1="708.39" y1="1110.6" x2="708.39" y2="1118.9" stroke="#000" stroke-width="2.2"/>
<text transform="translate(708.89,1135.8) scale(0.95,1)" font-size="15.5" font-weight="bold" text-anchor="middle" stroke="#000" stroke-width="0.3">20</text>
<line x1="727.26" y1="1110.6" x2="727.26" y2="1118.9" stroke="#000" stroke-width="2.2"/>
<text transform="translate(727.76,1135.8) scale(0.95,1)" font-size="15.5" font-weight="bold" text-anchor="middle" stroke="#000" stroke-width="0.3">22</text>
<line x1="746.14" y1="1110.6" x2="746.14" y2="1118.9" stroke="#000" stroke-width="2.2"/>
<text transform="translate(746.64,1135.8) scale(0.95,1)" font-size="15.5" font-weight="bold" text-anchor="middle" stroke="#000" stroke-width="0.3">24</text>
<line x1="765.01" y1="1110.6" x2="765.01" y2="1118.9" stroke="#000" stroke-width="2.2"/>
<text transform="translate(765.51,1135.8) scale(0.95,1)" font-size="15.5" font-weight="bold" text-anchor="middle" stroke="#000" stroke-width="0.3">26</text>
<line x1="783.88" y1="1110.6" x2="783.88" y2="1118.9" stroke="#000" stroke-width="2.2"/>
<text transform="translate(784.38,1135.8) scale(0.95,1)" font-size="15.5" font-weight="bold" text-anchor="middle" stroke="#000" stroke-width="0.3">28</text>
<line x1="802.75" y1="1110.6" x2="802.75" y2="1118.9" stroke="#000" stroke-width="2.2"/>
<text transform="translate(803.25,1135.8) scale(0.95,1)" font-size="15.5" font-weight="bold" text-anchor="middle" stroke="#000" stroke-width="0.3">30</text>
<line x1="821.62" y1="1110.6" x2="821.62" y2="1118.9" stroke="#000" stroke-width="2.2"/>
<text transform="translate(822.12,1135.8) scale(0.95,1)" font-size="15.5" font-weight="bold" text-anchor="middle" stroke="#000" stroke-width="0.3">32</text>
<line x1="840.49" y1="1110.6" x2="840.49" y2="1118.9" stroke="#000" stroke-width="2.2"/>
<text transform="translate(840.99,1135.8) scale(0.95,1)" font-size="15.5" font-weight="bold" text-anchor="middle" stroke="#000" stroke-width="0.3">34</text>
<line x1="859.36" y1="1110.6" x2="859.36" y2="1118.9" stroke="#000" stroke-width="2.2"/>
<text transform="translate(859.86,1135.8) scale(0.95,1)" font-size="15.5" font-weight="bold" text-anchor="middle" stroke="#000" stroke-width="0.3">36</text>
<line x1="878.23" y1="1110.6" x2="878.23" y2="1118.9" stroke="#000" stroke-width="2.2"/>
<text transform="translate(878.73,1135.8) scale(0.95,1)" font-size="15.5" font-weight="bold" text-anchor="middle" stroke="#000" stroke-width="0.3">38</text>
<line x1="897.1" y1="1110.6" x2="897.1" y2="1118.9" stroke="#000" stroke-width="2.2"/>
<text transform="translate(897.6,1135.8) scale(0.95,1)" font-size="15.5" font-weight="bold" text-anchor="middle" stroke="#000" stroke-width="0.3">40</text>
<polyline points="576.3,1100.66 595.17,1101.48 614.04,1102.31 632.91,1103.14 651.78,1102.81 670.65,1099.99 689.52,1088.06 708.39,1069.5 727.26,1012.32" fill="none" stroke="#ff2600" stroke-width="1.3" stroke-linejoin="miter"/>
<polyline points="576.3,1099 595.17,1100.66 614.04,1101.48 632.91,1102.31 651.78,1103.14 670.65,1099 689.52,1090.71 708.39,1082.92 727.26,1064.36 746.14,1017.13 765.01,970.06 783.88,939.4" fill="none" stroke="#ff2600" stroke-width="1.3" stroke-linejoin="miter"/>
<polyline points="576.3,1099.83 595.17,1100.99 614.04,1101.98 632.91,1102.64 651.78,1103.14 670.65,1099.83 689.52,1092.37 708.39,1077.12 727.26,1064.36 746.14,1047.12 765.01,1020.61 783.88,968.07" fill="none" stroke="#ff2600" stroke-width="1.3" stroke-linejoin="miter"/>
<polyline points="576.3,1101.48 595.17,1102.31 614.04,1103.14 632.91,1103.64 651.78,1103.97 670.65,1102.31 689.52,1099.99 708.39,1091.54 727.26,1081.43 746.14,1070.66 765.01,1066.35 783.88,1063.53 802.75,1004.36" fill="none" stroke="#ff2600" stroke-width="1.3" stroke-linejoin="miter"/>
<polyline points="576.3,1103.97 595.17,1103.97 614.04,1105.63 632.91,1106.46 651.78,1107.29 670.65,1108.11 689.52,1108.94 708.39,1108.94 727.26,1109.77 746.14,1109.77 765.01,1109.77 783.88,1108.61 802.75,1099.99 821.62,1094.36 840.49,1074.3 859.36,1057.23 878.23,1022.1" fill="none" stroke="#ff2600" stroke-width="1.3" stroke-linejoin="miter"/>
<polyline points="576.3,1104.8 595.17,1104.8 614.04,1105.63 632.91,1106.46 651.78,1107.29 670.65,1108.11 689.52,1108.94 708.39,1109.77 727.26,1109.77 746.14,1109.77 765.01,1109.77 783.88,1109.77 802.75,1109.77 821.62,1108.94 840.49,1107.29 859.36,1101.48 878.23,1099.83 897.1,1095.68" fill="none" stroke="#ff2600" stroke-width="1.3" stroke-linejoin="miter"/>
<polyline points="576.3,1105.63 595.17,1105.63 614.04,1106.46 632.91,1107.29 651.78,1108.11 670.65,1108.94 689.52,1108.94 708.39,1108.94 727.26,1109.77 746.14,1109.77 765.01,1109.77 783.88,1109.77 802.75,1109.77 821.62,1109.77 840.49,1107.29 859.36,1104.3 878.23,1099.99 897.1,1097.18" fill="none" stroke="#ff2600" stroke-width="1.3" stroke-linejoin="miter"/>
<polyline points="576.3,1098.17 595.17,1099 614.04,1102.31 632.91,1103.97 651.78,1105.63 670.65,1107.29 689.52,1103.97 708.39,1107.29 727.26,1106.46 746.14,1105.63 765.01,1108.94 783.88,1108.94 802.75,1110.6 897.1,1110.6" fill="none" stroke="#ff2600" stroke-width="1.3" stroke-linejoin="miter"/>
<polyline points="576.3,1102.31 595.17,1103.14 614.04,1103.97 632.91,1104.8 651.78,1105.63 670.65,1106.46 689.52,1107.29 708.39,1104.8 727.26,1108.11 746.14,1108.94 765.01,1109.77 783.88,1110.6" fill="none" stroke="#ff2600" stroke-width="1.3" stroke-linejoin="miter"/>
<polyline points="576.3,1103.14 595.17,1103.97 614.04,1105.63 632.91,1106.46 651.78,1107.29 670.65,1108.94 689.52,1109.77 708.39,1109.77 727.26,1110.6" fill="none" stroke="#ff2600" stroke-width="1.3" stroke-linejoin="miter"/>
<polyline points="576.3,1106.46 595.17,1105.63 614.04,1107.29 632.91,1108.11 651.78,1108.94 670.65,1109.77 689.52,1110.6" fill="none" stroke="#ff2600" stroke-width="1.3" stroke-linejoin="miter"/>
<polyline points="576.3,1097.34 595.17,1098.17 614.04,1100.66 632.91,1099.83 651.78,1102.31 670.65,1103.97 689.52,1105.63 708.39,1107.29 727.26,1108.94 746.14,1110.6" fill="none" stroke="#ff2600" stroke-width="1.3" stroke-linejoin="miter"/>
<text x="182.5" y="378" font-size="31"><tspan font-weight="bold" fill="#0433ff">NC</tspan>-derived tumors</text>
<text transform="translate(584.3,378) scale(1.01,1)" font-size="31"><tspan font-weight="bold" fill="#ff0000">WD</tspan>-derived tumors</text>
<text x="170.2" y="810" font-size="31"><tspan font-weight="bold" fill="#0433ff">NC</tspan>-derived tumors</text>
<text x="170.2" y="844.3" font-size="31">+ anti-PD-1</text>
<text transform="translate(584.2,810) scale(1,1)" font-size="31"><tspan font-weight="bold" fill="#ff0000">WD</tspan>-derived tumors</text>
<text x="591.7" y="844.3" font-size="31">+ anti-PD-1</text>
<text transform="translate(74,537.1) rotate(-90)" font-size="31.6" text-anchor="middle">Tumor volume (mm³)</text>
<text transform="translate(74,982) rotate(-90)" font-size="31.6" text-anchor="middle">Tumor volume (mm³)</text>
<text x="317.5" y="722.8" font-size="32" text-anchor="middle">(days)</text>
<text x="734" y="722.8" font-size="32" text-anchor="middle">(days)</text>
<text x="325.4" y="1187.7" font-size="32" text-anchor="middle">(days)</text>
<text x="769.5" y="1187.7" font-size="32" text-anchor="middle">(days)</text>
<text transform="translate(954.5,34) scale(1,1.04)" font-size="47" font-weight="bold">C</text>
<text transform="translate(1224,41.5) scale(1.02,1)" font-size="27"><tspan font-style="italic">P</tspan>=0.2119</text>
<text transform="translate(1375,41.5) scale(1.01,1)" font-size="27"><tspan font-style="italic">P</tspan>=0.0016</text>
<text transform="translate(1196.3,109.1) scale(1.01,1)" font-size="27"><tspan font-style="italic">P</tspan>=0.0132</text>
<text x="1346.6" y="109.1" font-size="27"><tspan font-style="italic">P</tspan>=0.0528</text>
<path d="M1195.2,67 L1195.2,56.9 Q1195.2,53.9 1198.2,53.9 L1366.5,53.9 Q1369.5,53.9 1369.5,56.9 L1369.5,67" fill="none" stroke="#000" stroke-width="1.6"/>
<path d="M1377.3,67 L1377.3,56.9 Q1377.3,53.9 1380.3,53.9 L1481.6,53.9 Q1484.6,53.9 1484.6,56.9 L1484.6,67" fill="none" stroke="#000" stroke-width="1.6"/>
<path d="M1197.8,132.8 L1197.8,122.6 Q1197.8,119.6 1200.8,119.6 L1301.3,119.6 Q1304.3,119.6 1304.3,122.6 L1304.3,132.8" fill="none" stroke="#000" stroke-width="1.6"/>
<path d="M1312.4,132.8 L1312.4,122.6 Q1312.4,119.6 1315.4,119.6 L1483.4,119.6 Q1486.4,119.6 1486.4,122.6 L1486.4,132.8" fill="none" stroke="#000" stroke-width="1.6"/>
<rect x="1177.5" y="160.5" width="61.5" height="347.1" fill="#000"/>
<rect x="1182.8" y="166" width="50.9" height="29.21" fill="#b2b2b2"/>
<text x="1208.25" y="192.3" font-size="27" text-anchor="middle">2</text>
<text x="1208.25" y="493.2" font-size="27" text-anchor="middle" fill="#fff">18</text>
<rect x="1269.8" y="160.5" width="61.5" height="347.1" fill="#000"/>
<rect x="1275.1" y="166" width="50.9" height="150.7" fill="#b2b2b2"/>
<text x="1300.55" y="192.3" font-size="27" text-anchor="middle">9</text>
<text x="1300.55" y="493.2" font-size="27" text-anchor="middle" fill="#fff">11</text>
<rect x="1361.8" y="160.5" width="61.5" height="347.1" fill="#000"/>
<rect x="1367.1" y="166" width="50.9" height="81.28" fill="#b2b2b2"/>
<text x="1392.55" y="192.3" font-size="27" text-anchor="middle">5</text>
<text x="1392.55" y="493.2" font-size="27" text-anchor="middle" fill="#fff">15</text>
<rect x="1454.2" y="160.5" width="61.5" height="347.1" fill="#000"/>
<rect x="1459.5" y="166" width="50.9" height="254.83" fill="#b2b2b2"/>
<text x="1484.95" y="192.3" font-size="27" text-anchor="middle">15</text>
<text x="1484.95" y="493.2" font-size="27" text-anchor="middle" fill="#fff">5</text>
<line x1="1146.7" y1="158.5" x2="1146.7" y2="509.6" stroke="#000" stroke-width="4"/>
<line x1="1131.2" y1="507.6" x2="1545.6" y2="507.6" stroke="#000" stroke-width="4"/>
<line x1="1132" y1="507.6" x2="1147" y2="507.6" stroke="#000" stroke-width="3.6"/>
<text x="1126.2" y="517.3" font-size="27" font-weight="bold" text-anchor="end">0</text>
<line x1="1132" y1="438.18" x2="1147" y2="438.18" stroke="#000" stroke-width="3.6"/>
<text x="1126.2" y="447.88" font-size="27" font-weight="bold" text-anchor="end">20</text>
<line x1="1132" y1="368.76" x2="1147" y2="368.76" stroke="#000" stroke-width="3.6"/>
<text x="1126.2" y="378.46" font-size="27" font-weight="bold" text-anchor="end">40</text>
<line x1="1132" y1="299.34" x2="1147" y2="299.34" stroke="#000" stroke-width="3.6"/>
<text x="1126.2" y="309.04" font-size="27" font-weight="bold" text-anchor="end">60</text>
<line x1="1132" y1="229.92" x2="1147" y2="229.92" stroke="#000" stroke-width="3.6"/>
<text x="1126.2" y="239.62" font-size="27" font-weight="bold" text-anchor="end">80</text>
<line x1="1132" y1="160.5" x2="1147" y2="160.5" stroke="#000" stroke-width="3.6"/>
<text x="1126.2" y="170.2" font-size="27" font-weight="bold" text-anchor="end">100</text>
<line x1="1208" y1="507.6" x2="1208" y2="522" stroke="#000" stroke-width="3.6"/>
<line x1="1299.8" y1="507.6" x2="1299.8" y2="522" stroke="#000" stroke-width="3.6"/>
<line x1="1392" y1="507.6" x2="1392" y2="522" stroke="#000" stroke-width="3.6"/>
<line x1="1484.8" y1="507.6" x2="1484.8" y2="522" stroke="#000" stroke-width="3.6"/>
<text transform="translate(1043,338.8) rotate(-90)" font-size="31" text-anchor="middle">Percent</text>
<text transform="translate(1202.3,529.5) rotate(-90) scale(1,1.04)" font-size="27" text-anchor="end">NC-</text>
<text transform="translate(1233.5,529.5) rotate(-90) scale(1,1.04)" font-size="27" text-anchor="end">derived</text>
<text transform="translate(1293.7,529.5) rotate(-90) scale(1,1.04)" font-size="27" text-anchor="end">WD-</text>
<text transform="translate(1325.3,529.5) rotate(-90) scale(1,1.04)" font-size="27" text-anchor="end">derived</text>
<text transform="translate(1386.9,529.5) rotate(-90) scale(1,1.04)" font-size="27" text-anchor="end">NC-derived</text>
<text transform="translate(1417.3,529.5) rotate(-90) scale(1,1.04)" font-size="27" text-anchor="end">+ anti-PD-1</text>
<text transform="translate(1483.5,529.5) rotate(-90) scale(1,1.04)" font-size="27" text-anchor="end">WD-derived</text>
<text transform="translate(1514,529.5) rotate(-90) scale(1,1.04)" font-size="27" text-anchor="end">+ anti-PD-1</text>
<rect x="1544.7" y="163.6" width="38.8" height="38.8" fill="#b1aeac" stroke="#000" stroke-width="4"/>
<rect x="1542.7" y="215.4" width="42.8" height="42.9" fill="#000"/>
<text x="1597" y="196.7" font-size="31">Tumor-free</text>
<text x="1597" y="249.7" font-size="31">Tumor</text>
<text transform="translate(985.7,727.4) scale(1,1.04)" font-size="47" font-weight="bold">D</text>
<line x1="1162" y1="739.7" x2="1200.5" y2="739.7" stroke="#0433ff" stroke-width="1.6"/>
<circle cx="1181.3" cy="739.7" r="8.8" fill="#0433ff"/>
<text x="1222" y="750" font-size="28.5">NC-derived tumor</text>
<line x1="1162.5" y1="788.4" x2="1202" y2="788.4" stroke="#0433ff" stroke-width="1.6" stroke-dasharray="4.5,3"/>
<rect x="1173.8" y="779.6" width="18" height="17.5" fill="#0433ff"/>
<text x="1222" y="798.7" font-size="28.5">NC-derived tumor + anti-Thy1.2</text>
<line x1="1162" y1="836" x2="1200.5" y2="836" stroke="#ff2600" stroke-width="1.6"/>
<circle cx="1181.3" cy="836" r="8.8" fill="#ff2600"/>
<text x="1222" y="846.3" font-size="28.5">WD-derived tumor</text>
<line x1="1162.5" y1="883.2" x2="1202" y2="883.2" stroke="#ff2600" stroke-width="1.6" stroke-dasharray="4.5,3"/>
<rect x="1173.8" y="874.4" width="18" height="17.5" fill="#ff2600"/>
<text x="1222" y="893.5" font-size="28.5">WD-derived tumor + anti-Thy1.2</text>
<line x1="1498" y1="1061.98" x2="1498" y2="1017.83" stroke="#ff2600" stroke-width="2.2"/>
<line x1="1490" y1="1017.83" x2="1506" y2="1017.83" stroke="#ff2600" stroke-width="2.2"/>
<line x1="1490" y1="1061.98" x2="1506" y2="1061.98" stroke="#ff2600" stroke-width="2.2"/>
<line x1="1569.2" y1="953.65" x2="1569.2" y2="941.42" stroke="#ff2600" stroke-width="2.2"/>
<line x1="1561.2" y1="941.42" x2="1577.2" y2="941.42" stroke="#ff2600" stroke-width="2.2"/>
<line x1="1561.2" y1="953.65" x2="1577.2" y2="953.65" stroke="#ff2600" stroke-width="2.2"/>
<line x1="1498" y1="1064.69" x2="1498" y2="1023.94" stroke="#0433ff" stroke-width="2.2"/>
<line x1="1490" y1="1023.94" x2="1506" y2="1023.94" stroke="#0433ff" stroke-width="2.2"/>
<line x1="1490" y1="1064.69" x2="1506" y2="1064.69" stroke="#0433ff" stroke-width="2.2"/>
<line x1="1569.2" y1="964.18" x2="1569.2" y2="951.95" stroke="#0433ff" stroke-width="2.2"/>
<line x1="1561.2" y1="951.95" x2="1577.2" y2="951.95" stroke="#0433ff" stroke-width="2.2"/>
<line x1="1561.2" y1="964.18" x2="1577.2" y2="964.18" stroke="#0433ff" stroke-width="2.2"/>
<polyline points="1213.2,1273.2 1284.4,1243.31 1355.6,1189.66 1426.8,1139.74 1498,1039.9 1569.2,947.54" fill="none" stroke="#ff2600" stroke-width="2" stroke-linejoin="miter" stroke-dasharray="6,3.5"/>
<polyline points="1213.2,1271.84 1284.4,1254.18 1355.6,1202.56 1426.8,1147.89 1498,1044.32 1569.2,958.06" fill="none" stroke="#0433ff" stroke-width="2" stroke-linejoin="miter" stroke-dasharray="6,3.5"/>
<rect x="1204.7" y="1264.7" width="17" height="17" fill="#ff2600"/>
<rect x="1275.9" y="1234.81" width="17" height="17" fill="#ff2600"/>
<rect x="1347.1" y="1181.16" width="17" height="17" fill="#ff2600"/>
<rect x="1418.3" y="1131.24" width="17" height="17" fill="#ff2600"/>
<rect x="1489.5" y="1031.4" width="17" height="17" fill="#ff2600"/>
<rect x="1560.7" y="939.04" width="17" height="17" fill="#ff2600"/>
<rect x="1204.7" y="1263.34" width="17" height="17" fill="#0433ff"/>
<rect x="1275.9" y="1245.68" width="17" height="17" fill="#0433ff"/>
<rect x="1347.1" y="1194.06" width="17" height="17" fill="#0433ff"/>
<rect x="1418.3" y="1139.39" width="17" height="17" fill="#0433ff"/>
<rect x="1489.5" y="1035.82" width="17" height="17" fill="#0433ff"/>
<rect x="1560.7" y="949.56" width="17" height="17" fill="#0433ff"/>
<line x1="1569.2" y1="1295.27" x2="1569.2" y2="1274.9" stroke="#ff2600" stroke-width="2.2"/>
<line x1="1561.2" y1="1274.9" x2="1577.2" y2="1274.9" stroke="#ff2600" stroke-width="2.2"/>
<line x1="1561.2" y1="1295.27" x2="1577.2" y2="1295.27" stroke="#ff2600" stroke-width="2.2"/>
<line x1="1640.4" y1="1281.01" x2="1640.4" y2="1247.05" stroke="#ff2600" stroke-width="2.2"/>
<line x1="1632.4" y1="1247.05" x2="1648.4" y2="1247.05" stroke="#ff2600" stroke-width="2.2"/>
<line x1="1632.4" y1="1281.01" x2="1648.4" y2="1281.01" stroke="#ff2600" stroke-width="2.2"/>
<line x1="1711.6" y1="1258.94" x2="1711.6" y2="1199.17" stroke="#ff2600" stroke-width="2.2"/>
<line x1="1703.6" y1="1199.17" x2="1719.6" y2="1199.17" stroke="#ff2600" stroke-width="2.2"/>
<line x1="1703.6" y1="1258.94" x2="1719.6" y2="1258.94" stroke="#ff2600" stroke-width="2.2"/>
<line x1="1355.6" y1="1255.54" x2="1355.6" y2="1237.88" stroke="#0433ff" stroke-width="2.2"/>
<line x1="1347.6" y1="1237.88" x2="1363.6" y2="1237.88" stroke="#0433ff" stroke-width="2.2"/>
<line x1="1347.6" y1="1255.54" x2="1363.6" y2="1255.54" stroke="#0433ff" stroke-width="2.2"/>
<line x1="1426.8" y1="1232.45" x2="1426.8" y2="1203.92" stroke="#0433ff" stroke-width="2.2"/>
<line x1="1418.8" y1="1203.92" x2="1434.8" y2="1203.92" stroke="#0433ff" stroke-width="2.2"/>
<line x1="1418.8" y1="1232.45" x2="1434.8" y2="1232.45" stroke="#0433ff" stroke-width="2.2"/>
<line x1="1498" y1="1199.17" x2="1498" y2="1144.84" stroke="#0433ff" stroke-width="2.2"/>
<line x1="1490" y1="1144.84" x2="1506" y2="1144.84" stroke="#0433ff" stroke-width="2.2"/>
<line x1="1490" y1="1199.17" x2="1506" y2="1199.17" stroke="#0433ff" stroke-width="2.2"/>
<line x1="1569.2" y1="1152.99" x2="1569.2" y2="1106.8" stroke="#0433ff" stroke-width="2.2"/>
<line x1="1561.2" y1="1106.8" x2="1577.2" y2="1106.8" stroke="#0433ff" stroke-width="2.2"/>
<line x1="1561.2" y1="1152.99" x2="1577.2" y2="1152.99" stroke="#0433ff" stroke-width="2.2"/>
<line x1="1640.4" y1="1091.18" x2="1640.4" y2="1041.6" stroke="#0433ff" stroke-width="2.2"/>
<line x1="1632.4" y1="1041.6" x2="1648.4" y2="1041.6" stroke="#0433ff" stroke-width="2.2"/>
<line x1="1632.4" y1="1091.18" x2="1648.4" y2="1091.18" stroke="#0433ff" stroke-width="2.2"/>
<line x1="1711.6" y1="1031.75" x2="1711.6" y2="994.4" stroke="#0433ff" stroke-width="2.2"/>
<line x1="1703.6" y1="994.4" x2="1719.6" y2="994.4" stroke="#0433ff" stroke-width="2.2"/>
<line x1="1703.6" y1="1031.75" x2="1719.6" y2="1031.75" stroke="#0433ff" stroke-width="2.2"/>
<polyline points="1213.2,1300.36 1284.4,1301.72 1355.6,1300.7 1426.8,1303.42 1498,1298.33 1569.2,1285.08 1640.4,1264.03 1711.6,1229.05" fill="none" stroke="#ff2600" stroke-width="2.2" stroke-linejoin="miter"/>
<polyline points="1213.2,1287.19 1284.4,1276.25 1355.6,1246.71 1426.8,1218.19 1498,1172 1569.2,1129.89 1640.4,1066.39 1711.6,1013.08" fill="none" stroke="#0433ff" stroke-width="2.2" stroke-linejoin="miter"/>
<circle cx="1213.2" cy="1300.36" r="8.2" fill="#ff2600"/>
<circle cx="1284.4" cy="1301.72" r="8.2" fill="#ff2600"/>
<circle cx="1355.6" cy="1300.7" r="8.2" fill="#ff2600"/>
<circle cx="1426.8" cy="1303.42" r="8.2" fill="#ff2600"/>
<circle cx="1498" cy="1298.33" r="8.2" fill="#ff2600"/>
<circle cx="1569.2" cy="1285.08" r="8.2" fill="#ff2600"/>
<circle cx="1640.4" cy="1264.03" r="8.2" fill="#ff2600"/>
<circle cx="1711.6" cy="1229.05" r="8.2" fill="#ff2600"/>
<circle cx="1213.2" cy="1287.19" r="8.2" fill="#0433ff"/>
<circle cx="1284.4" cy="1276.25" r="8.2" fill="#0433ff"/>
<circle cx="1355.6" cy="1246.71" r="8.2" fill="#0433ff"/>
<circle cx="1426.8" cy="1218.19" r="8.2" fill="#0433ff"/>
<circle cx="1498" cy="1172" r="8.2" fill="#0433ff"/>
<circle cx="1569.2" cy="1129.89" r="8.2" fill="#0433ff"/>
<circle cx="1640.4" cy="1066.39" r="8.2" fill="#0433ff"/>
<circle cx="1711.6" cy="1013.08" r="8.2" fill="#0433ff"/>
<line x1="1142.6" y1="911" x2="1142.6" y2="1322.4" stroke="#000" stroke-width="3.6"/>
<line x1="1129" y1="1320.4" x2="1713.5" y2="1320.4" stroke="#000" stroke-width="3.6"/>
<line x1="1128.8" y1="1320.4" x2="1143" y2="1320.4" stroke="#000" stroke-width="3.4"/>
<text x="1122.8" y="1329.2" font-size="25" font-weight="bold" text-anchor="end">0</text>
<line x1="1128.8" y1="1218.53" x2="1143" y2="1218.53" stroke="#000" stroke-width="3.4"/>
<text x="1122.8" y="1227.33" font-size="25" font-weight="bold" text-anchor="end">300</text>
<line x1="1128.8" y1="1116.65" x2="1143" y2="1116.65" stroke="#000" stroke-width="3.4"/>
<text x="1122.8" y="1125.45" font-size="25" font-weight="bold" text-anchor="end">600</text>
<line x1="1128.8" y1="1014.77" x2="1143" y2="1014.77" stroke="#000" stroke-width="3.4"/>
<text x="1122.8" y="1023.57" font-size="25" font-weight="bold" text-anchor="end">900</text>
<line x1="1128.8" y1="912.9" x2="1143" y2="912.9" stroke="#000" stroke-width="3.4"/>
<text x="1122.8" y="921.7" font-size="25" font-weight="bold" text-anchor="end">1200</text>
<line x1="1142" y1="1320.4" x2="1142" y2="1333.5" stroke="#000" stroke-width="3.4"/>
<text x="1142" y="1361.2" font-size="25" font-weight="bold" text-anchor="middle">4</text>
<line x1="1213.2" y1="1320.4" x2="1213.2" y2="1333.5" stroke="#000" stroke-width="3.4"/>
<text x="1213.2" y="1361.2" font-size="25" font-weight="bold" text-anchor="middle">6</text>
<line x1="1284.4" y1="1320.4" x2="1284.4" y2="1333.5" stroke="#000" stroke-width="3.4"/>
<text x="1284.4" y="1361.2" font-size="25" font-weight="bold" text-anchor="middle">8</text>
<line x1="1355.6" y1="1320.4" x2="1355.6" y2="1333.5" stroke="#000" stroke-width="3.4"/>
<text x="1355.6" y="1361.2" font-size="25" font-weight="bold" text-anchor="middle">10</text>
<line x1="1426.8" y1="1320.4" x2="1426.8" y2="1333.5" stroke="#000" stroke-width="3.4"/>
<text x="1426.8" y="1361.2" font-size="25" font-weight="bold" text-anchor="middle">12</text>
<line x1="1498" y1="1320.4" x2="1498" y2="1333.5" stroke="#000" stroke-width="3.4"/>
<text x="1498" y="1361.2" font-size="25" font-weight="bold" text-anchor="middle">14</text>
<line x1="1569.2" y1="1320.4" x2="1569.2" y2="1333.5" stroke="#000" stroke-width="3.4"/>
<text x="1569.2" y="1361.2" font-size="25" font-weight="bold" text-anchor="middle">16</text>
<line x1="1640.4" y1="1320.4" x2="1640.4" y2="1333.5" stroke="#000" stroke-width="3.4"/>
<text x="1640.4" y="1361.2" font-size="25" font-weight="bold" text-anchor="middle">18</text>
<line x1="1711.6" y1="1320.4" x2="1711.6" y2="1333.5" stroke="#000" stroke-width="3.4"/>
<text x="1711.6" y="1361.2" font-size="25" font-weight="bold" text-anchor="middle">20</text>
<text x="1421" y="1404.6" font-size="32" text-anchor="middle">(days)</text>
<text transform="translate(1041.5,1129.8) rotate(-90)" font-size="31" text-anchor="middle">Tumor volume (mm³)</text>
<text transform="translate(1571,1012.7) scale(0.94,1)" font-size="25"><tspan font-style="italic">P</tspan>=0.0015</text>
<text transform="translate(1646.5,1150) scale(0.93,1)" font-size="25"><tspan font-style="italic">P</tspan>&lt;0.0001</text>
<text transform="translate(0,1273.4) scale(1,1.04)" font-size="47" font-weight="bold">E</text>
<polyline points="196.8,1282.9 532.96,1282.9 532.96,1304.3 624.64,1304.3 624.64,1325.69 655.2,1325.69 655.2,1347.09 777.44,1347.09 777.44,1368.48 808,1368.48" fill="none" stroke="#ff2600" stroke-width="2.8" stroke-linejoin="miter"/>
<polyline points="196.8,1282.9 410.72,1282.9 410.72,1368.48 441.28,1368.48 441.28,1411.27 471.84,1411.27 471.84,1475.45 502.4,1475.45 502.4,1496.85 563.52,1496.85 563.52,1518.24 624.64,1518.24 624.64,1539.64 655.2,1539.64 655.2,1561.03 685.76,1561.03 685.76,1603.83 808,1603.83" fill="none" stroke="#0433ff" stroke-width="2.8" stroke-linejoin="miter"/>
<line x1="196.8" y1="1281" x2="196.8" y2="1712.3" stroke="#000" stroke-width="2.8"/>
<line x1="195.4" y1="1710.8" x2="809.2" y2="1710.8" stroke="#000" stroke-width="2.8"/>
<line x1="184.5" y1="1710.8" x2="197" y2="1710.8" stroke="#000" stroke-width="2.6"/>
<text transform="translate(179.5,1718.8) scale(0.96,1)" font-size="22.5" font-weight="bold" text-anchor="end">0</text>
<line x1="184.5" y1="1668.01" x2="197" y2="1668.01" stroke="#000" stroke-width="2.6"/>
<text transform="translate(179.5,1676.01) scale(0.96,1)" font-size="22.5" font-weight="bold" text-anchor="end">10</text>
<line x1="184.5" y1="1625.22" x2="197" y2="1625.22" stroke="#000" stroke-width="2.6"/>
<text transform="translate(179.5,1633.22) scale(0.96,1)" font-size="22.5" font-weight="bold" text-anchor="end">20</text>
<line x1="184.5" y1="1582.43" x2="197" y2="1582.43" stroke="#000" stroke-width="2.6"/>
<text transform="translate(179.5,1590.43) scale(0.96,1)" font-size="22.5" font-weight="bold" text-anchor="end">30</text>
<line x1="184.5" y1="1539.64" x2="197" y2="1539.64" stroke="#000" stroke-width="2.6"/>
<text transform="translate(179.5,1547.64) scale(0.96,1)" font-size="22.5" font-weight="bold" text-anchor="end">40</text>
<line x1="184.5" y1="1496.85" x2="197" y2="1496.85" stroke="#000" stroke-width="2.6"/>
<text transform="translate(179.5,1504.85) scale(0.96,1)" font-size="22.5" font-weight="bold" text-anchor="end">50</text>
<line x1="184.5" y1="1454.06" x2="197" y2="1454.06" stroke="#000" stroke-width="2.6"/>
<text transform="translate(179.5,1462.06) scale(0.96,1)" font-size="22.5" font-weight="bold" text-anchor="end">60</text>
<line x1="184.5" y1="1411.27" x2="197" y2="1411.27" stroke="#000" stroke-width="2.6"/>
<text transform="translate(179.5,1419.27) scale(0.96,1)" font-size="22.5" font-weight="bold" text-anchor="end">70</text>
<line x1="184.5" y1="1368.48" x2="197" y2="1368.48" stroke="#000" stroke-width="2.6"/>
<text transform="translate(179.5,1376.48) scale(0.96,1)" font-size="22.5" font-weight="bold" text-anchor="end">80</text>
<line x1="184.5" y1="1325.69" x2="197" y2="1325.69" stroke="#000" stroke-width="2.6"/>
<text transform="translate(179.5,1333.69) scale(0.96,1)" font-size="22.5" font-weight="bold" text-anchor="end">90</text>
<line x1="184.5" y1="1282.9" x2="197" y2="1282.9" stroke="#000" stroke-width="2.6"/>
<text transform="translate(179.5,1290.9) scale(0.96,1)" font-size="22.5" font-weight="bold" text-anchor="end">100</text>
<line x1="196.8" y1="1710.8" x2="196.8" y2="1723.3" stroke="#000" stroke-width="3"/>
<text transform="translate(196.8,1747.2) scale(0.98,1)" font-size="22.5" font-weight="bold" text-anchor="middle">0</text>
<line x1="349.6" y1="1710.8" x2="349.6" y2="1723.3" stroke="#000" stroke-width="3"/>
<text transform="translate(349.6,1747.2) scale(0.98,1)" font-size="22.5" font-weight="bold" text-anchor="middle">10</text>
<line x1="502.4" y1="1710.8" x2="502.4" y2="1723.3" stroke="#000" stroke-width="3"/>
<text transform="translate(502.4,1747.2) scale(0.98,1)" font-size="22.5" font-weight="bold" text-anchor="middle">20</text>
<line x1="655.2" y1="1710.8" x2="655.2" y2="1723.3" stroke="#000" stroke-width="3"/>
<text transform="translate(655.2,1747.2) scale(0.98,1)" font-size="22.5" font-weight="bold" text-anchor="middle">30</text>
<line x1="808" y1="1710.8" x2="808" y2="1723.3" stroke="#000" stroke-width="3"/>
<text transform="translate(808,1747.2) scale(0.98,1)" font-size="22.5" font-weight="bold" text-anchor="middle">40</text>
<text x="506.6" y="1798.8" font-size="32" text-anchor="middle">(days)</text>
<text transform="translate(95,1508.9) rotate(-90)" font-size="31.3" text-anchor="middle">Probability of survival</text>
<line x1="222" y1="1618.8" x2="261" y2="1618.8" stroke="#0433ff" stroke-width="3"/>
<line x1="222" y1="1666.2" x2="261" y2="1666.2" stroke="#ff2600" stroke-width="3"/>
<text x="279" y="1628.4" font-size="27.2">NC-derived tumor + anti-PD-1</text>
<text x="279" y="1675.7" font-size="27.2">WD-derived tumor + anti-PD-1</text>
<path d="M835.3,1371.3 Q852,1371 855.5,1374.5 L855.5,1600 Q852,1603.8 835.3,1603.6" fill="none" stroke="#000" stroke-width="1.6"/>
<text transform="translate(871.5,1443.5) rotate(90) scale(0.92,1)" font-size="25"><tspan font-style="italic">P</tspan>=0.0001</text>
<defs>
<filter id="b4" x="-50%" y="-50%" width="200%" height="200%"><feGaussianBlur stdDeviation="4"/></filter>
<filter id="b6" x="-50%" y="-50%" width="200%" height="200%"><feGaussianBlur stdDeviation="6"/></filter>
<filter id="b10" x="-50%" y="-50%" width="200%" height="200%"><feGaussianBlur stdDeviation="10"/></filter>
<filter id="b20" x="-50%" y="-50%" width="200%" height="200%"><feGaussianBlur stdDeviation="20"/></filter>
<filter id="b30" x="-50%" y="-50%" width="200%" height="200%"><feGaussianBlur stdDeviation="30"/></filter>
<filter id="b40" x="-50%" y="-50%" width="200%" height="200%"><feGaussianBlur stdDeviation="40"/></filter>
</defs>
<clipPath id="cp1"><rect x="1126.1" y="1493.7" width="283.8" height="154.2"/></clipPath>
<linearGradient id="bg1" x1="0" y1="0" x2="0" y2="1"><stop offset="0" stop-color="#f8f7f6"/><stop offset="1" stop-color="#e8e6e4"/></linearGradient>
<g clip-path="url(#cp1)">
<rect x="1126.1" y="1493.7" width="283.8" height="154.2" fill="url(#bg1)"/>
<g transform="translate(1110,1480) scale(0.18)">
<clipPath id="bc1"><path d="M235,835 C221.67,823.67 204.17,790.83 190,760 C175.83,729.17 158.33,684.17 150,650 C141.67,615.83 140,585 140,555 C140,525 141.67,494.17 150,470 C158.33,445.83 175.83,432.5 190,410 C204.17,387.5 213.33,358.33 235,335 C256.67,311.67 291.67,289.17 320,270 C348.33,250.83 375,235.83 405,220 C435,204.17 466.67,188.33 500,175 C533.33,161.67 566.67,151.67 605,140 C643.33,128.33 694.17,108 730,105 C765.83,102 780,115.33 820,122 C860,128.67 924.17,134.5 970,145 C1015.83,155.5 1053.33,168.33 1095,185 C1136.67,201.67 1182.5,225 1220,245 C1257.5,265 1290.83,283.83 1320,305 C1349.17,326.17 1377,355.33 1395,372 C1413,388.67 1431.83,389.5 1428,405 C1424.17,420.5 1394.17,435.83 1372,465 C1349.83,494.17 1316.17,552.83 1295,580 C1273.83,607.17 1274.17,617.17 1245,628 C1215.83,638.83 1165.83,643 1120,645 C1074.17,647 1020,642 970,640 C920,638 855.83,636 820,633 C784.17,630 782.5,622.17 755,622 C727.5,621.83 688.33,626.5 655,632 C621.67,637.5 584.17,647 555,655 C525.83,663 505.83,672.5 480,680 C454.17,687.5 420.83,693.67 400,700 C379.17,706.33 371.67,703 355,718 C338.33,733 314.17,771.67 300,790 C285.83,808.33 280.83,820.5 270,828 C259.17,835.5 248.33,846.33 235,835 Z"/></clipPath>
<path d="M1400,420 C1410,422 1439.17,425.67 1460,432 C1480.83,438.33 1502.5,445.33 1525,458 C1547.5,470.67 1576.67,487.67 1595,508 C1613.33,528.33 1626.67,554.67 1635,580 C1643.33,605.33 1642.5,636.67 1645,660 C1647.5,683.33 1649.17,710 1650,720" fill="none" stroke="#c6ada2" stroke-width="50" stroke-linecap="round" filter="url(#b4)"/>
<path d="M1400,420 C1410,422 1439.17,425.67 1460,432 C1480.83,438.33 1502.5,445.33 1525,458 C1547.5,470.67 1576.67,487.67 1595,508 C1613.33,528.33 1626.67,554.67 1635,580 C1643.33,605.33 1642.5,636.67 1645,660 C1647.5,683.33 1649.17,710 1650,720" fill="none" stroke="#d6c0b6" stroke-width="22.5" stroke-linecap="round" filter="url(#b6)"/>
<path d="M1245,622 C1257,607.83 1291.17,602 1300,615 C1308.83,628 1299.33,669.17 1298,700 C1296.67,730.83 1294.17,770 1292,800 C1289.83,830 1295.67,865.83 1285,880 C1274.33,894.17 1239.67,898.33 1228,885 C1216.33,871.67 1215,830.83 1215,800 C1215,769.17 1223,729.67 1228,700 C1233,670.33 1233,636.17 1245,622 Z" fill="#c98c8b" filter="url(#b4)"/>
<path d="M465,718 C475.67,706.33 517.5,700 530,712 C542.5,724 545,774 540,790 C535,806 512.33,809.33 500,808 C487.67,806.67 471.83,797 466,782 C460.17,767 454.33,729.67 465,718 Z" fill="#c98c8b" filter="url(#b4)"/>
<path d="M235,835 C221.67,823.67 204.17,790.83 190,760 C175.83,729.17 158.33,684.17 150,650 C141.67,615.83 140,585 140,555 C140,525 141.67,494.17 150,470 C158.33,445.83 175.83,432.5 190,410 C204.17,387.5 213.33,358.33 235,335 C256.67,311.67 291.67,289.17 320,270 C348.33,250.83 375,235.83 405,220 C435,204.17 466.67,188.33 500,175 C533.33,161.67 566.67,151.67 605,140 C643.33,128.33 694.17,108 730,105 C765.83,102 780,115.33 820,122 C860,128.67 924.17,134.5 970,145 C1015.83,155.5 1053.33,168.33 1095,185 C1136.67,201.67 1182.5,225 1220,245 C1257.5,265 1290.83,283.83 1320,305 C1349.17,326.17 1377,355.33 1395,372 C1413,388.67 1431.83,389.5 1428,405 C1424.17,420.5 1394.17,435.83 1372,465 C1349.83,494.17 1316.17,552.83 1295,580 C1273.83,607.17 1274.17,617.17 1245,628 C1215.83,638.83 1165.83,643 1120,645 C1074.17,647 1020,642 970,640 C920,638 855.83,636 820,633 C784.17,630 782.5,622.17 755,622 C727.5,621.83 688.33,626.5 655,632 C621.67,637.5 584.17,647 555,655 C525.83,663 505.83,672.5 480,680 C454.17,687.5 420.83,693.67 400,700 C379.17,706.33 371.67,703 355,718 C338.33,733 314.17,771.67 300,790 C285.83,808.33 280.83,820.5 270,828 C259.17,835.5 248.33,846.33 235,835 Z" fill="#2d2f34" filter="url(#b4)"/>
<g clip-path="url(#bc1)">
<path d="M330,780 C355,766.67 426.67,721.67 480,700 C533.33,678.33 580,660 650,650 C720,640 825,641.67 900,640 C975,638.33 1041.67,643 1100,640 C1158.33,637 1211.67,638.67 1250,622 C1288.33,605.33 1316.67,553.67 1330,540" fill="none" stroke="#575049" stroke-width="110" stroke-opacity="0.85" filter="url(#b20)"/>
<radialGradient id="rg1"><stop offset="0" stop-color="#111114" stop-opacity="1"/><stop offset="0.55" stop-color="#111114" stop-opacity="1"/><stop offset="1" stop-color="#111114" stop-opacity="0"/></radialGradient>
<ellipse cx="300" cy="640" rx="260" ry="260" fill="url(#rg1)"/>
<radialGradient id="rg2"><stop offset="0" stop-color="#606369" stop-opacity="0.85"/><stop offset="0.5" stop-color="#606369" stop-opacity="0.85"/><stop offset="1" stop-color="#606369" stop-opacity="0"/></radialGradient>
<ellipse cx="1000" cy="390" rx="375" ry="256.5" fill="url(#rg2)"/>
</g>
<path d="M225,790 C235,775.83 280.83,758.33 300,760 C319.17,761.67 341.67,785.83 340,800 C338.33,814.17 306.67,837.5 290,845 C273.33,852.5 250.83,854.17 240,845 C229.17,835.83 215,804.17 225,790 Z" fill="#8f6d6b" filter="url(#b10)"/>
<path d="M75,300 C85,288.33 129.17,292.5 160,300 C190.83,307.5 231.67,329.17 260,345 C288.33,360.83 315.83,377.5 330,395 C344.17,412.5 349.17,430.83 345,450 C340.83,469.17 322.5,500.83 305,510 C287.5,519.17 264.17,516.67 240,505 C215.83,493.33 183.33,462.5 160,440 C136.67,417.5 114.17,393.33 100,370 C85.83,346.67 65,311.67 75,300 Z" fill="#cfb1a6" filter="url(#b4)"/>
<ellipse cx="239.44" cy="431.67" rx="45" ry="55" fill="#a98580" fill-opacity="0.6" filter="url(#b20)"/>
<ellipse cx="852" cy="322" rx="80" ry="97" fill="#9a7e86" filter="url(#b4)"/>
<ellipse cx="862" cy="338" rx="50" ry="56" fill="#8b3d4c" filter="url(#b6)"/>
</g></g>
<clipPath id="cp2"><rect x="1429.4" y="1495" width="281.9" height="152.8"/></clipPath>
<linearGradient id="bg2" x1="0" y1="0" x2="0" y2="1"><stop offset="0" stop-color="#fcfcfc"/><stop offset="1" stop-color="#eeeeed"/></linearGradient>
<g clip-path="url(#cp2)">
<rect x="1429.4" y="1495" width="281.9" height="152.8" fill="url(#bg2)"/>
<g transform="translate(1420,1480) scale(0.19)">
<clipPath id="bc2"><path d="M182,768 C165,751.83 153.5,697.33 143,659 C132.5,620.67 124.67,578.33 119,538 C113.33,497.67 107.17,449.17 109,417 C110.83,384.83 117.83,363.67 130,345 C142.17,326.33 150.83,327 182,305 C213.17,283 270.17,235.67 317,213 C363.83,190.33 414.5,183.5 463,169 C511.5,154.5 559.5,130 608,126 C656.5,122 707.33,137 754,145 C800.67,153 841.5,162.67 888,174 C934.5,185.33 984.5,199.17 1033,213 C1081.5,226.83 1138.5,241.67 1179,257 C1219.5,272.33 1247.67,287.33 1276,305 C1304.33,322.67 1335,348 1349,363 C1363,378 1365.67,378 1360,395 C1354.33,412 1329,441.17 1315,465 C1301,488.83 1286.5,516.17 1276,538 C1265.5,559.83 1264.17,579.83 1252,596 C1239.83,612.17 1231.33,626.17 1203,635 C1174.67,643.83 1126.5,653 1082,649 C1037.5,645 984.5,620.67 936,611 C887.5,601.33 841.5,592.67 791,591 C740.5,589.33 679.67,591.17 633,601 C586.33,610.83 543.33,644.33 511,650 C478.67,655.67 463.17,639.17 439,635 C414.83,630.83 386.33,617 366,625 C345.67,633 337.17,661.17 317,683 C296.83,704.83 267.5,741.83 245,756 C222.5,770.17 199,784.17 182,768 Z"/></clipPath>
<path d="M1345,390 C1354.17,393.33 1383.17,403.17 1400,410 C1416.83,416.83 1428,417.83 1446,431 C1464,444.17 1492,467.17 1508,489 C1524,510.83 1535.83,536.83 1542,562 C1548.17,587.17 1544.5,627 1545,640" fill="none" stroke="#c6ada2" stroke-width="48" stroke-linecap="round" filter="url(#b4)"/>
<path d="M1345,390 C1354.17,393.33 1383.17,403.17 1400,410 C1416.83,416.83 1428,417.83 1446,431 C1464,444.17 1492,467.17 1508,489 C1524,510.83 1535.83,536.83 1542,562 C1548.17,587.17 1544.5,627 1545,640" fill="none" stroke="#d6c0b6" stroke-width="21.6" stroke-linecap="round" filter="url(#b6)"/>
<path d="M1175,630 C1183.33,607.5 1228.33,610 1240,625 C1251.67,640 1242.5,680.83 1245,720 C1247.5,759.17 1260.83,835.83 1255,860 C1249.17,884.17 1220.83,881.67 1210,865 C1199.17,848.33 1195.83,799.17 1190,760 C1184.17,720.83 1166.67,652.5 1175,630 Z" fill="#c98c8b" filter="url(#b4)"/>
<path d="M1240,605 C1241.67,578.33 1276.67,584.17 1290,600 C1303.33,615.83 1307.5,659.17 1320,700 C1332.5,740.83 1363.33,818.33 1365,845 C1366.67,871.67 1344.17,874.17 1330,860 C1315.83,845.83 1295,802.5 1280,760 C1265,717.5 1238.33,631.67 1240,605 Z" fill="#c98c8b" filter="url(#b4)"/>
<path d="M424,698 C434.17,690.5 476.5,682.17 487,695 C497.5,707.83 494,760.5 487,775 C480,789.5 455.17,787.83 445,782 C434.83,776.17 429.5,754 426,740 C422.5,726 413.83,705.5 424,698 Z" fill="#c98c8b" filter="url(#b4)"/>
<path d="M182,768 C165,751.83 153.5,697.33 143,659 C132.5,620.67 124.67,578.33 119,538 C113.33,497.67 107.17,449.17 109,417 C110.83,384.83 117.83,363.67 130,345 C142.17,326.33 150.83,327 182,305 C213.17,283 270.17,235.67 317,213 C363.83,190.33 414.5,183.5 463,169 C511.5,154.5 559.5,130 608,126 C656.5,122 707.33,137 754,145 C800.67,153 841.5,162.67 888,174 C934.5,185.33 984.5,199.17 1033,213 C1081.5,226.83 1138.5,241.67 1179,257 C1219.5,272.33 1247.67,287.33 1276,305 C1304.33,322.67 1335,348 1349,363 C1363,378 1365.67,378 1360,395 C1354.33,412 1329,441.17 1315,465 C1301,488.83 1286.5,516.17 1276,538 C1265.5,559.83 1264.17,579.83 1252,596 C1239.83,612.17 1231.33,626.17 1203,635 C1174.67,643.83 1126.5,653 1082,649 C1037.5,645 984.5,620.67 936,611 C887.5,601.33 841.5,592.67 791,591 C740.5,589.33 679.67,591.17 633,601 C586.33,610.83 543.33,644.33 511,650 C478.67,655.67 463.17,639.17 439,635 C414.83,630.83 386.33,617 366,625 C345.67,633 337.17,661.17 317,683 C296.83,704.83 267.5,741.83 245,756 C222.5,770.17 199,784.17 182,768 Z" fill="#2d2f34" filter="url(#b4)"/>
<g clip-path="url(#bc2)">
<path d="M330,720 C350,710 388.33,678.33 450,660 C511.67,641.67 608.33,615 700,610 C791.67,605 916.67,630 1000,630 C1083.33,630 1146.67,628.33 1200,610 C1253.33,591.67 1300,535 1320,520" fill="none" stroke="#575049" stroke-width="110" stroke-opacity="0.85" filter="url(#b20)"/>
<radialGradient id="rg3"><stop offset="0" stop-color="#111114" stop-opacity="1"/><stop offset="0.55" stop-color="#111114" stop-opacity="1"/><stop offset="1" stop-color="#111114" stop-opacity="0"/></radialGradient>
<ellipse cx="300" cy="560" rx="250" ry="260" fill="url(#rg3)"/>
<radialGradient id="rg4"><stop offset="0" stop-color="#85878c" stop-opacity="0.9"/><stop offset="0.5" stop-color="#85878c" stop-opacity="0.9"/><stop offset="1" stop-color="#85878c" stop-opacity="0"/></radialGradient>
<ellipse cx="700" cy="330" rx="212.5" ry="148.5" fill="url(#rg4)"/>
<radialGradient id="rg5"><stop offset="0" stop-color="#7c7e83" stop-opacity="0.8"/><stop offset="0.5" stop-color="#7c7e83" stop-opacity="0.8"/><stop offset="1" stop-color="#7c7e83" stop-opacity="0"/></radialGradient>
<ellipse cx="990" cy="290" rx="200" ry="121.5" fill="url(#rg5)"/>
</g>
<path d="M175,740 C190,725.83 254.17,694.17 280,690 C305.83,685.83 331.67,702.5 330,715 C328.33,727.5 293.33,755 270,765 C246.67,775 205.83,779.17 190,775 C174.17,770.83 160,754.17 175,740 Z" fill="#8f6d6b" filter="url(#b10)"/>
<path d="M89,281 C102,274.33 141.5,280.17 170,290 C198.5,299.83 238.33,322.5 260,340 C281.67,357.5 296.33,376.67 300,395 C303.67,413.33 293.33,434.67 282,450 C270.67,465.33 252.33,487.83 232,487 C211.67,486.17 180.33,460.83 160,445 C139.67,429.17 121.33,411.17 110,392 C98.67,372.83 95.5,348.5 92,330 C88.5,311.5 76,287.67 89,281 Z" fill="#cfb1a6" filter="url(#b4)"/>
<ellipse cx="208.33" cy="408.89" rx="45" ry="55" fill="#a98580" fill-opacity="0.6" filter="url(#b20)"/>
<ellipse cx="812" cy="286" rx="40" ry="38" fill="#a9a9ad" filter="url(#b6)"/>
</g></g>
<clipPath id="cp3"><rect x="1118.9" y="1648.5" width="304.5" height="154"/></clipPath>
<linearGradient id="bg3" x1="0" y1="0" x2="0" y2="1"><stop offset="0" stop-color="#ebe9e7"/><stop offset="1" stop-color="#e5e3e1"/></linearGradient>
<g clip-path="url(#cp3)">
<rect x="1118.9" y="1648.5" width="304.5" height="154" fill="url(#bg3)"/>
<g transform="translate(1100,1640) scale(0.19)">
<clipPath id="bc3"><path d="M147,642 C131.67,630.67 133,613.83 133,584 C133,554.17 139.83,499.33 147,463 C154.17,426.67 158.83,393.17 176,366 C193.17,338.83 221.67,317.83 250,300 C278.33,282.17 309.83,278 346,259 C382.17,240 422.5,203.83 467,186 C511.5,168.17 572.5,164.83 613,152 C653.5,139.17 677.67,119.5 710,109 C742.33,98.5 770.67,92.33 807,89 C843.33,85.67 892.5,86.5 928,89 C963.5,91.5 980.33,94.17 1020,104 C1059.67,113.83 1117.5,130.17 1166,148 C1214.5,165.83 1270.67,192.5 1311,211 C1351.33,229.5 1375.67,238 1408,259 C1440.33,280 1480.67,316 1505,337 C1529.33,358 1548.17,369.5 1554,385 C1559.83,400.5 1545.67,417 1540,430 C1534.33,443 1529.83,449.5 1520,463 C1510.17,476.5 1499.67,496.5 1481,511 C1462.33,525.5 1428.17,537.83 1408,550 C1387.83,562.17 1380.17,574.33 1360,584 C1339.83,593.67 1311.33,606.33 1287,608 C1262.67,609.67 1242.33,602 1214,594 C1185.67,586 1149.33,569 1117,560 C1084.67,551 1055.5,538.33 1020,540 C984.5,541.67 931.5,563.33 904,570 C876.5,576.67 880.83,579.17 855,580 C829.17,580.83 785.33,576 749,575 C712.67,574 677.5,572.5 637,574 C596.5,575.5 542.33,584.67 506,584 C469.67,583.33 449.67,563.5 419,570 C388.33,576.5 354.33,609.33 322,623 C289.67,636.67 254.17,648.83 225,652 C195.83,655.17 162.33,653.33 147,642 Z"/></clipPath>
<path d="M1520,410 C1530,413.33 1562.17,423.67 1580,430 C1597.83,436.33 1605.5,436 1627,448 C1648.5,460 1686.83,488.33 1709,502 C1731.17,515.67 1751.5,525.33 1760,530" fill="none" stroke="#c6ada2" stroke-width="55" stroke-linecap="round" filter="url(#b4)"/>
<path d="M1520,410 C1530,413.33 1562.17,423.67 1580,430 C1597.83,436.33 1605.5,436 1627,448 C1648.5,460 1686.83,488.33 1709,502 C1731.17,515.67 1751.5,525.33 1760,530" fill="none" stroke="#d6c0b6" stroke-width="24.75" stroke-linecap="round" filter="url(#b6)"/>
<path d="M1350,560 C1359.33,536.67 1404.67,536.67 1418,560 C1431.33,583.33 1426.83,655.67 1430,700 C1433.17,744.33 1442.83,804.33 1437,826 C1431.17,847.67 1407.5,851 1395,830 C1382.5,809 1369.5,745 1362,700 C1354.5,655 1340.67,583.33 1350,560 Z" fill="#c98c8b" filter="url(#b4)"/>
<path d="M506,580 C523.17,562.33 609,567.33 623,584 C637,600.67 598.17,643.67 590,680 C581.83,716.33 584,781.17 574,802 C564,822.83 539,823.67 530,805 C521,786.33 524,727.5 520,690 C516,652.5 488.83,597.67 506,580 Z" fill="#c98c8b" filter="url(#b4)"/>
<path d="M749,574 C760.67,568.17 812.33,569.67 830,585 C847.67,600.33 860,652.17 855,666 C850,679.83 815.83,675.67 800,668 C784.17,660.33 768.5,635.67 760,620 C751.5,604.33 737.33,579.83 749,574 Z" fill="#c98c8b" filter="url(#b4)"/>
<path d="M147,642 C131.67,630.67 133,613.83 133,584 C133,554.17 139.83,499.33 147,463 C154.17,426.67 158.83,393.17 176,366 C193.17,338.83 221.67,317.83 250,300 C278.33,282.17 309.83,278 346,259 C382.17,240 422.5,203.83 467,186 C511.5,168.17 572.5,164.83 613,152 C653.5,139.17 677.67,119.5 710,109 C742.33,98.5 770.67,92.33 807,89 C843.33,85.67 892.5,86.5 928,89 C963.5,91.5 980.33,94.17 1020,104 C1059.67,113.83 1117.5,130.17 1166,148 C1214.5,165.83 1270.67,192.5 1311,211 C1351.33,229.5 1375.67,238 1408,259 C1440.33,280 1480.67,316 1505,337 C1529.33,358 1548.17,369.5 1554,385 C1559.83,400.5 1545.67,417 1540,430 C1534.33,443 1529.83,449.5 1520,463 C1510.17,476.5 1499.67,496.5 1481,511 C1462.33,525.5 1428.17,537.83 1408,550 C1387.83,562.17 1380.17,574.33 1360,584 C1339.83,593.67 1311.33,606.33 1287,608 C1262.67,609.67 1242.33,602 1214,594 C1185.67,586 1149.33,569 1117,560 C1084.67,551 1055.5,538.33 1020,540 C984.5,541.67 931.5,563.33 904,570 C876.5,576.67 880.83,579.17 855,580 C829.17,580.83 785.33,576 749,575 C712.67,574 677.5,572.5 637,574 C596.5,575.5 542.33,584.67 506,584 C469.67,583.33 449.67,563.5 419,570 C388.33,576.5 354.33,609.33 322,623 C289.67,636.67 254.17,648.83 225,652 C195.83,655.17 162.33,653.33 147,642 Z" fill="#2d2f34" filter="url(#b4)"/>
<g clip-path="url(#bc3)">
<path d="M300,640 C325,631.67 383.33,600 450,590 C516.67,580 608.33,586.67 700,580 C791.67,573.33 900,546.67 1000,550 C1100,553.33 1220,605 1300,600 C1380,595 1450,533.33 1480,520" fill="none" stroke="#575049" stroke-width="110" stroke-opacity="0.85" filter="url(#b20)"/>
<radialGradient id="rg6"><stop offset="0" stop-color="#111114" stop-opacity="1"/><stop offset="0.55" stop-color="#111114" stop-opacity="1"/><stop offset="1" stop-color="#111114" stop-opacity="0"/></radialGradient>
<ellipse cx="290" cy="480" rx="230" ry="200" fill="url(#rg6)"/>
<radialGradient id="rg7"><stop offset="0" stop-color="#6f7278" stop-opacity="0.9"/><stop offset="0.5" stop-color="#6f7278" stop-opacity="0.9"/><stop offset="1" stop-color="#6f7278" stop-opacity="0"/></radialGradient>
<ellipse cx="1080" cy="300" rx="325" ry="229.5" fill="url(#rg7)"/>
<radialGradient id="rg8"><stop offset="0" stop-color="#65686e" stop-opacity="0.6"/><stop offset="0.5" stop-color="#65686e" stop-opacity="0.6"/><stop offset="1" stop-color="#65686e" stop-opacity="0"/></radialGradient>
<ellipse cx="780" cy="260" rx="150" ry="135" fill="url(#rg8)"/>
</g>
<path d="M140,600 C155,590 208.33,587.5 240,590 C271.67,592.5 326.67,605 330,615 C333.33,625 290,644.17 260,650 C230,655.83 170,658.33 150,650 C130,641.67 125,610 140,600 Z" fill="#8f6d6b" filter="url(#b10)"/>
<path d="M491,160 C505.83,152.5 571.67,145.83 589,150 C606.33,154.17 609.83,177.5 595,185 C580.17,192.5 517.33,199.17 500,195 C482.67,190.83 476.17,167.5 491,160 Z" fill="#e6d6bf" filter="url(#b4)"/>
<path d="M176,196 C189,191.83 224.33,202.67 250,215 C275.67,227.33 310,251.33 330,270 C350,288.67 367.5,307 370,327 C372.5,347 356.33,373.83 345,390 C333.67,406.17 319.5,427.33 302,424 C284.5,420.67 258.67,390.67 240,370 C221.33,349.33 201.33,321.67 190,300 C178.67,278.33 174.33,257.33 172,240 C169.67,222.67 163,200.17 176,196 Z" fill="#cfb1a6" filter="url(#b4)"/>
<ellipse cx="283.89" cy="333.56" rx="45" ry="55" fill="#a98580" fill-opacity="0.6" filter="url(#b20)"/>
<ellipse cx="986" cy="284" rx="84" ry="110" fill="#b39699" filter="url(#b6)"/>
<ellipse cx="975" cy="275" rx="55" ry="70" fill="#bd9a9d" filter="url(#b10)"/>
</g></g>
<clipPath id="cp4"><rect x="1422.8" y="1649.4" width="323.4" height="153.1"/></clipPath>
<linearGradient id="bg4" x1="0" y1="0" x2="0" y2="1"><stop offset="0" stop-color="#fdfdfd"/><stop offset="1" stop-color="#efeeec"/></linearGradient>
<g clip-path="url(#cp4)">
<rect x="1422.8" y="1649.4" width="323.4" height="153.1" fill="url(#bg4)"/>
<g transform="translate(1420,1640) scale(0.19)">
<clipPath id="bc4"><path d="M97,795 C76.83,788.67 79.5,761.17 73,730 C66.5,698.83 58.83,644.5 58,608 C57.17,571.5 61.5,541.67 68,511 C74.5,480.33 83.33,455.83 97,424 C110.67,392.17 129.83,349.83 150,320 C170.17,290.17 186.5,263.17 218,245 C249.5,226.83 298.5,221.5 339,211 C379.5,200.5 420.5,192.5 461,182 C501.5,171.5 545.67,161 582,148 C618.33,135 646.67,111.33 679,104 C711.33,96.67 747.67,101.5 776,104 C804.33,106.5 818.5,111 849,119 C879.5,127 913.33,138.33 959,152 C1004.67,165.67 1068.5,183.67 1123,201 C1177.5,218.33 1236,236 1286,256 C1336,276 1382,297.5 1423,321 C1464,344.5 1511.67,377.17 1532,397 C1552.33,416.83 1554.17,422.67 1545,440 C1535.83,457.33 1494.67,480.83 1477,501 C1459.33,521.17 1448,540 1439,561 C1430,582 1439.33,608.83 1423,627 C1406.67,645.17 1382,661 1341,670 C1300,679 1231.5,683.67 1177,681 C1122.5,678.33 1068.5,663 1014,654 C959.5,645 897.83,634.67 850,627 C802.17,619.33 763.67,607 727,608 C690.33,609 657.83,624.33 630,633 C602.17,641.67 584.17,656 560,660 C535.83,664 513.67,657.5 485,657 C456.33,656.5 420.33,653 388,657 C355.67,661 323.33,662.5 291,681 C258.67,699.5 226.33,749 194,768 C161.67,787 117.17,801.33 97,795 Z"/></clipPath>
<path d="M1525,445 C1532.5,450.83 1555.17,468 1570,480 C1584.83,492 1595.83,497.17 1614,517 C1632.17,536.83 1660.83,571.67 1679,599 C1697.17,626.33 1712.83,660.83 1723,681 C1733.17,701.17 1737.17,713.5 1740,720" fill="none" stroke="#c6ada2" stroke-width="60" stroke-linecap="round" filter="url(#b4)"/>
<path d="M1525,445 C1532.5,450.83 1555.17,468 1570,480 C1584.83,492 1595.83,497.17 1614,517 C1632.17,536.83 1660.83,571.67 1679,599 C1697.17,626.33 1712.83,660.83 1723,681 C1733.17,701.17 1737.17,713.5 1740,720" fill="none" stroke="#d6c0b6" stroke-width="27" stroke-linecap="round" filter="url(#b6)"/>
<path d="M1385,650 C1385,631.67 1430.83,635 1450,650 C1469.17,665 1480,715 1500,740 C1520,765 1558.33,783.33 1570,800 C1581.67,816.67 1580,833.67 1570,840 C1560,846.33 1530,851.33 1510,838 C1490,824.67 1470.83,791.33 1450,760 C1429.17,728.67 1385,668.33 1385,650 Z" fill="#c98c8b" filter="url(#b4)"/>
<path d="M560,640 C568.33,620 616.67,626.67 630,640 C643.33,653.33 628.33,696.67 640,720 C651.67,743.33 685.5,765 700,780 C714.5,795 727,801.67 727,810 C727,818.33 717.83,827.5 700,830 C682.17,832.5 640,836.67 620,825 C600,813.33 590,790.83 580,760 C570,729.17 551.67,660 560,640 Z" fill="#c98c8b" filter="url(#b4)"/>
<path d="M97,795 C76.83,788.67 79.5,761.17 73,730 C66.5,698.83 58.83,644.5 58,608 C57.17,571.5 61.5,541.67 68,511 C74.5,480.33 83.33,455.83 97,424 C110.67,392.17 129.83,349.83 150,320 C170.17,290.17 186.5,263.17 218,245 C249.5,226.83 298.5,221.5 339,211 C379.5,200.5 420.5,192.5 461,182 C501.5,171.5 545.67,161 582,148 C618.33,135 646.67,111.33 679,104 C711.33,96.67 747.67,101.5 776,104 C804.33,106.5 818.5,111 849,119 C879.5,127 913.33,138.33 959,152 C1004.67,165.67 1068.5,183.67 1123,201 C1177.5,218.33 1236,236 1286,256 C1336,276 1382,297.5 1423,321 C1464,344.5 1511.67,377.17 1532,397 C1552.33,416.83 1554.17,422.67 1545,440 C1535.83,457.33 1494.67,480.83 1477,501 C1459.33,521.17 1448,540 1439,561 C1430,582 1439.33,608.83 1423,627 C1406.67,645.17 1382,661 1341,670 C1300,679 1231.5,683.67 1177,681 C1122.5,678.33 1068.5,663 1014,654 C959.5,645 897.83,634.67 850,627 C802.17,619.33 763.67,607 727,608 C690.33,609 657.83,624.33 630,633 C602.17,641.67 584.17,656 560,660 C535.83,664 513.67,657.5 485,657 C456.33,656.5 420.33,653 388,657 C355.67,661 323.33,662.5 291,681 C258.67,699.5 226.33,749 194,768 C161.67,787 117.17,801.33 97,795 Z" fill="#2d2f34" filter="url(#b4)"/>
<g clip-path="url(#bc4)">
<path d="M250,740 C283.33,730 375,698.33 450,680 C525,661.67 608.33,636.67 700,630 C791.67,623.33 900,635 1000,640 C1100,645 1220,673.33 1300,660 C1380,646.67 1450,576.67 1480,560" fill="none" stroke="#575049" stroke-width="110" stroke-opacity="0.85" filter="url(#b20)"/>
<radialGradient id="rg9"><stop offset="0" stop-color="#111114" stop-opacity="1"/><stop offset="0.55" stop-color="#111114" stop-opacity="1"/><stop offset="1" stop-color="#111114" stop-opacity="0"/></radialGradient>
<ellipse cx="250" cy="560" rx="250" ry="280" fill="url(#rg9)"/>
<radialGradient id="rg10"><stop offset="0" stop-color="#6c6f75" stop-opacity="0.85"/><stop offset="0.5" stop-color="#6c6f75" stop-opacity="0.85"/><stop offset="1" stop-color="#6c6f75" stop-opacity="0"/></radialGradient>
<ellipse cx="1160" cy="340" rx="200" ry="175.5" fill="url(#rg10)"/>
<radialGradient id="rg11"><stop offset="0" stop-color="#5f6268" stop-opacity="0.6"/><stop offset="0.5" stop-color="#5f6268" stop-opacity="0.6"/><stop offset="1" stop-color="#5f6268" stop-opacity="0"/></radialGradient>
<ellipse cx="700" cy="330" rx="175" ry="148.5" fill="url(#rg11)"/>
</g>
<path d="M110,760 C128.33,743.33 198.33,703.33 230,700 C261.67,696.67 301.67,723.33 300,740 C298.33,756.67 250,790 220,800 C190,810 138.33,806.67 120,800 C101.67,793.33 91.67,776.67 110,760 Z" fill="#8f6d6b" filter="url(#b10)"/>
<path d="M252,170 C259.33,157 291.83,154.5 300,167 C308.17,179.5 308.33,232 301,245 C293.67,258 264.17,257.5 256,245 C247.83,232.5 244.67,183 252,170 Z" fill="#e6d6bf" filter="url(#b4)"/>
<path d="M126,177 C140.17,176.17 165.5,183 180,200 C194.5,217 207.17,250.67 213,279 C218.83,307.33 216.5,341.83 215,370 C213.5,398.17 214.83,439.67 204,448 C193.17,456.33 167.33,438 150,420 C132.67,402 112,365.17 100,340 C88,314.83 78.83,291.5 78,269 C77.17,246.5 87,220.33 95,205 C103,189.67 111.83,177.83 126,177 Z" fill="#cfb1a6" filter="url(#b4)"/>
<ellipse cx="171.22" cy="330.89" rx="45" ry="55" fill="#a98580" fill-opacity="0.6" filter="url(#b20)"/>
<ellipse cx="905" cy="365" rx="116" ry="133" fill="#a8999d" filter="url(#b6)"/>
<ellipse cx="910" cy="360" rx="84" ry="98" fill="#b27882" filter="url(#b10)"/>
</g></g>
<text x="1111.5" y="1480.1" font-size="31"><tspan font-weight="bold" fill="#0433ff">NC</tspan>-derived tumors</text>
<text x="1437" y="1480.1" font-size="31"><tspan font-weight="bold" fill="#ff0000">WD</tspan>-derived tumors</text>
<text transform="translate(1100.5,1593.8) scale(1,1.03)" font-size="31.5" text-anchor="end">PBS</text>
<text x="1105" y="1744.4" font-size="31.5" text-anchor="end">anti-Thy1.2</text>
</svg></body></html>
